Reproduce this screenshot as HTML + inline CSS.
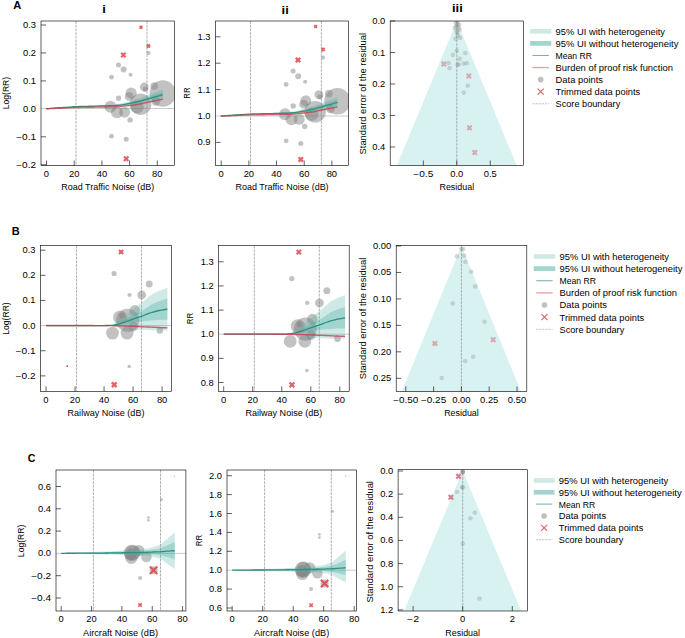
<!DOCTYPE html>
<html><head><meta charset="utf-8"><style>
html,body{margin:0;padding:0;background:#fff;}
svg{display:block;}
text{font-family:"Liberation Sans",sans-serif;fill:#000;}
</style></head><body>
<svg width="685" height="638" viewBox="0 0 685 638">
<rect width="685" height="638" fill="#fff"/>
<line x1="41.00" y1="25.00" x2="46.00" y2="25.00" stroke="#000" stroke-width="0.62"/>
<text x="36.10" y="28.00" font-size="8.4" text-anchor="end" textLength="13.04" lengthAdjust="spacingAndGlyphs">0.3</text>
<line x1="41.00" y1="52.95" x2="46.00" y2="52.95" stroke="#000" stroke-width="0.62"/>
<text x="36.10" y="55.95" font-size="8.4" text-anchor="end" textLength="13.04" lengthAdjust="spacingAndGlyphs">0.2</text>
<line x1="41.00" y1="80.90" x2="46.00" y2="80.90" stroke="#000" stroke-width="0.62"/>
<text x="36.10" y="83.90" font-size="8.4" text-anchor="end" textLength="13.04" lengthAdjust="spacingAndGlyphs">0.1</text>
<text x="36.10" y="111.85" font-size="8.4" text-anchor="end" textLength="13.04" lengthAdjust="spacingAndGlyphs">0.0</text>
<line x1="41.00" y1="136.80" x2="46.00" y2="136.80" stroke="#000" stroke-width="0.62"/>
<text x="36.10" y="139.80" font-size="8.4" text-anchor="end" textLength="19.91" lengthAdjust="spacingAndGlyphs">−0.1</text>
<line x1="41.00" y1="164.75" x2="46.00" y2="164.75" stroke="#000" stroke-width="0.62"/>
<text x="36.10" y="167.75" font-size="8.4" text-anchor="end" textLength="19.91" lengthAdjust="spacingAndGlyphs">−0.2</text>
<line x1="46.50" y1="165.50" x2="46.50" y2="160.50" stroke="#000" stroke-width="0.62"/>
<text x="46.50" y="176.80" font-size="8.4" text-anchor="middle" textLength="5.22" lengthAdjust="spacingAndGlyphs">0</text>
<line x1="74.20" y1="165.50" x2="74.20" y2="160.50" stroke="#000" stroke-width="0.62"/>
<text x="74.20" y="176.80" font-size="8.4" text-anchor="middle" textLength="10.43" lengthAdjust="spacingAndGlyphs">20</text>
<line x1="101.90" y1="165.50" x2="101.90" y2="160.50" stroke="#000" stroke-width="0.62"/>
<text x="101.90" y="176.80" font-size="8.4" text-anchor="middle" textLength="10.43" lengthAdjust="spacingAndGlyphs">40</text>
<line x1="129.60" y1="165.50" x2="129.60" y2="160.50" stroke="#000" stroke-width="0.62"/>
<text x="129.60" y="176.80" font-size="8.4" text-anchor="middle" textLength="10.43" lengthAdjust="spacingAndGlyphs">60</text>
<line x1="157.30" y1="165.50" x2="157.30" y2="160.50" stroke="#000" stroke-width="0.62"/>
<text x="157.30" y="176.80" font-size="8.4" text-anchor="middle" textLength="10.43" lengthAdjust="spacingAndGlyphs">80</text>
<clipPath id="cAi"><rect x="41.0" y="21.0" width="133.5" height="144.5"/></clipPath>
<g clip-path="url(#cAi)">
<line x1="76.00" y1="21.00" x2="76.00" y2="165.50" stroke="#909090" stroke-width="0.7" stroke-dasharray="2.8 0.9"/>
<line x1="147.00" y1="21.00" x2="147.00" y2="165.50" stroke="#909090" stroke-width="0.7" stroke-dasharray="2.8 0.9"/>
<line x1="41.00" y1="108.50" x2="174.50" y2="108.50" stroke="#c4c4c4" stroke-width="0.9"/>
<circle cx="162.80" cy="93.50" r="13.20" fill="#808080" fill-opacity="0.48"/>
<circle cx="154.20" cy="86.00" r="3.80" fill="#808080" fill-opacity="0.48"/>
<circle cx="144.30" cy="87.00" r="4.40" fill="#808080" fill-opacity="0.48"/>
<circle cx="145.40" cy="89.20" r="2.70" fill="#808080" fill-opacity="0.48"/>
<circle cx="131.20" cy="93.10" r="5.50" fill="#808080" fill-opacity="0.48"/>
<circle cx="129.00" cy="96.40" r="4.40" fill="#808080" fill-opacity="0.48"/>
<circle cx="140.50" cy="104.20" r="10.80" fill="#808080" fill-opacity="0.48"/>
<circle cx="118.60" cy="98.20" r="2.70" fill="#808080" fill-opacity="0.48"/>
<circle cx="110.40" cy="106.80" r="6.00" fill="#808080" fill-opacity="0.48"/>
<circle cx="117.00" cy="112.20" r="6.00" fill="#808080" fill-opacity="0.48"/>
<circle cx="124.60" cy="112.20" r="5.50" fill="#808080" fill-opacity="0.48"/>
<circle cx="130.10" cy="119.90" r="2.70" fill="#808080" fill-opacity="0.48"/>
<circle cx="111.50" cy="77.20" r="2.40" fill="#808080" fill-opacity="0.48"/>
<circle cx="130.50" cy="74.70" r="2.00" fill="#808080" fill-opacity="0.48"/>
<circle cx="155.80" cy="101.30" r="4.40" fill="#808080" fill-opacity="0.48"/>
<circle cx="137.20" cy="106.80" r="6.60" fill="#808080" fill-opacity="0.48"/>
<circle cx="148.50" cy="53.00" r="2.00" fill="#808080" fill-opacity="0.48"/>
<circle cx="118.50" cy="64.90" r="2.50" fill="#808080" fill-opacity="0.48"/>
<circle cx="123.60" cy="69.60" r="3.00" fill="#808080" fill-opacity="0.48"/>
<circle cx="111.50" cy="136.20" r="2.40" fill="#808080" fill-opacity="0.48"/>
<circle cx="126.20" cy="139.30" r="2.50" fill="#808080" fill-opacity="0.48"/>
<polygon points="46.10,108.70 48.08,108.54 50.06,108.38 52.03,108.23 54.01,108.07 55.99,107.91 57.97,107.76 59.95,107.60 61.92,107.44 63.90,107.28 65.88,107.13 67.86,106.97 69.84,106.81 71.81,106.66 73.79,106.50 75.77,106.34 77.75,106.26 79.73,106.19 81.70,106.13 83.68,106.06 85.66,105.99 87.64,105.92 89.62,105.86 91.59,105.79 93.57,105.72 95.55,105.65 97.53,105.58 99.51,105.52 101.48,105.38 103.46,105.22 105.44,105.06 107.42,104.91 109.39,104.75 111.37,104.58 113.35,104.40 115.33,104.21 117.31,103.94 119.28,103.67 121.26,103.34 123.24,102.86 125.22,102.30 127.20,101.75 129.17,101.19 131.15,100.63 133.13,100.00 135.11,99.36 137.09,98.73 139.06,98.10 141.04,97.40 143.02,96.65 145.00,95.91 146.98,95.16 148.95,94.44 150.93,93.72 152.91,93.01 154.89,92.29 156.87,91.54 158.84,90.80 160.82,90.05 162.80,89.30 162.80,99.90 160.82,100.32 158.84,100.74 156.87,101.16 154.89,101.57 152.91,101.96 150.93,102.34 148.95,102.73 146.98,103.12 145.00,103.54 143.02,103.96 141.04,104.38 139.06,104.72 137.09,104.98 135.11,105.23 133.13,105.49 131.15,105.75 129.17,105.93 127.20,106.11 125.22,106.29 123.24,106.48 121.26,106.58 119.28,106.60 117.31,106.67 115.33,106.74 113.35,106.73 111.37,106.71 109.39,106.69 107.42,106.65 105.44,106.61 103.46,106.57 101.48,106.53 99.51,106.51 97.53,106.54 95.55,106.57 93.57,106.60 91.59,106.63 89.62,106.66 87.64,106.69 85.66,106.73 83.68,106.76 81.70,106.79 79.73,106.82 77.75,106.85 75.77,106.89 73.79,107.01 71.81,107.13 69.84,107.25 67.86,107.37 65.88,107.49 63.90,107.62 61.92,107.74 59.95,107.86 57.97,107.98 55.99,108.10 54.01,108.22 52.03,108.34 50.06,108.46 48.08,108.58 46.10,108.70" fill="rgb(95,182,172)" fill-opacity="0.3"/>
<polygon points="46.10,108.70 48.08,108.55 50.06,108.40 52.03,108.25 54.01,108.10 55.99,107.95 57.97,107.80 59.95,107.65 61.92,107.50 63.90,107.35 65.88,107.20 67.86,107.05 69.84,106.90 71.81,106.75 73.79,106.60 75.77,106.45 77.75,106.38 79.73,106.32 81.70,106.26 83.68,106.20 85.66,106.14 87.64,106.08 89.62,106.02 91.59,105.96 93.57,105.90 95.55,105.84 97.53,105.78 99.51,105.72 101.48,105.62 103.46,105.51 105.44,105.40 107.42,105.29 109.39,105.18 111.37,105.06 113.35,104.93 115.33,104.79 117.31,104.57 119.28,104.35 121.26,104.10 123.24,103.71 125.22,103.24 127.20,102.77 129.17,102.30 131.15,101.83 133.13,101.29 135.11,100.74 137.09,100.20 139.06,99.66 141.04,99.04 143.02,98.35 145.00,97.66 146.98,96.97 148.95,96.31 150.93,95.66 152.91,95.00 154.89,94.35 156.87,93.66 158.84,92.97 160.82,92.29 162.80,91.60 162.80,97.60 160.82,98.08 158.84,98.56 156.87,99.04 154.89,99.51 152.91,99.96 150.93,100.41 148.95,100.85 146.98,101.30 145.00,101.78 143.02,102.27 141.04,102.75 139.06,103.16 137.09,103.51 135.11,103.85 133.13,104.20 131.15,104.55 129.17,104.82 127.20,105.09 125.22,105.36 123.24,105.63 121.26,105.83 119.28,105.91 117.31,106.03 115.33,106.16 113.35,106.20 111.37,106.23 109.39,106.25 107.42,106.26 105.44,106.27 103.46,106.28 101.48,106.29 99.51,106.31 97.53,106.35 95.55,106.39 93.57,106.43 91.59,106.46 89.62,106.50 87.64,106.54 85.66,106.58 83.68,106.62 81.70,106.66 79.73,106.69 77.75,106.73 75.77,106.78 73.79,106.91 71.81,107.04 69.84,107.17 67.86,107.29 65.88,107.42 63.90,107.55 61.92,107.68 59.95,107.81 57.97,107.93 55.99,108.06 54.01,108.19 52.03,108.32 50.06,108.44 48.08,108.57 46.10,108.70" fill="rgb(60,170,153)" fill-opacity="0.3"/>
<polyline points="46.10,108.70 48.08,108.56 50.06,108.42 52.03,108.28 54.01,108.14 55.99,108.01 57.97,107.87 59.95,107.73 61.92,107.59 63.90,107.45 65.88,107.31 67.86,107.17 69.84,107.03 71.81,106.89 73.79,106.76 75.77,106.62 77.75,106.56 79.73,106.51 81.70,106.46 83.68,106.41 85.66,106.36 87.64,106.31 89.62,106.26 91.59,106.21 93.57,106.16 95.55,106.11 97.53,106.06 99.51,106.01 101.48,105.96 103.46,105.90 105.44,105.84 107.42,105.78 109.39,105.72 111.37,105.65 113.35,105.57 115.33,105.47 117.31,105.30 119.28,105.13 121.26,104.96 123.24,104.67 125.22,104.30 127.20,103.93 129.17,103.56 131.15,103.19 133.13,102.74 135.11,102.30 137.09,101.85 139.06,101.41 141.04,100.89 143.02,100.31 145.00,99.72 146.98,99.14 148.95,98.58 150.93,98.03 152.91,97.48 154.89,96.93 156.87,96.35 158.84,95.77 160.82,95.18 162.80,94.60" fill="none" stroke="#2f8f83" stroke-width="1.3" stroke-opacity="1" stroke-linejoin="round"/>
<polyline points="46.10,108.80 48.08,108.71 50.06,108.63 52.03,108.54 54.01,108.45 55.99,108.37 57.97,108.28 59.95,108.19 61.92,108.11 63.90,108.02 65.88,107.93 67.86,107.85 69.84,107.76 71.81,107.67 73.79,107.59 75.77,107.50 77.75,107.47 79.73,107.43 81.70,107.40 83.68,107.36 85.66,107.33 87.64,107.29 89.62,107.26 91.59,107.22 93.57,107.19 95.55,107.15 97.53,107.12 99.51,107.08 101.48,107.05 103.46,107.01 105.44,106.98 107.42,106.95 109.39,106.91 111.37,106.87 113.35,106.83 115.33,106.77 117.31,106.60 119.28,106.43 121.26,106.26 123.24,106.08 125.22,105.91 127.20,105.74 129.17,105.57 131.15,105.39 133.13,105.08 135.11,104.77 137.09,104.46 139.06,104.15 141.04,103.77 143.02,103.32 145.00,102.87 146.98,102.43 148.95,102.02 150.93,101.62 152.91,101.22 154.89,100.82 156.87,100.43 158.84,100.03 160.82,99.64 162.80,99.24" fill="none" stroke="#d03a46" stroke-width="1.4" stroke-opacity="0.78" stroke-linejoin="round"/>
<path d="M139.64,25.94L142.36,28.66M142.36,25.94L139.64,28.66" stroke="#e0474f" stroke-width="1.76" stroke-opacity="0.85" fill="none"/>
<path d="M146.97,44.47L150.03,47.53M150.03,44.47L146.97,47.53" stroke="#e0474f" stroke-width="1.98" stroke-opacity="0.85" fill="none"/>
<path d="M121.19,52.79L125.61,57.21M125.61,52.79L121.19,57.21" stroke="#e0474f" stroke-width="2.21" stroke-opacity="0.85" fill="none"/>
<path d="M123.99,156.49L128.41,160.91M128.41,156.49L123.99,160.91" stroke="#e0474f" stroke-width="2.21" stroke-opacity="0.85" fill="none"/>
</g>
<rect x="41.00" y="21.00" width="133.50" height="144.50" fill="none" stroke="#000" stroke-width="0.62"/>
<line x1="215.50" y1="36.80" x2="220.50" y2="36.80" stroke="#000" stroke-width="0.62"/>
<text x="210.60" y="39.80" font-size="8.4" text-anchor="end" textLength="13.04" lengthAdjust="spacingAndGlyphs">1.3</text>
<line x1="215.50" y1="63.20" x2="220.50" y2="63.20" stroke="#000" stroke-width="0.62"/>
<text x="210.60" y="66.20" font-size="8.4" text-anchor="end" textLength="13.04" lengthAdjust="spacingAndGlyphs">1.2</text>
<line x1="215.50" y1="89.60" x2="220.50" y2="89.60" stroke="#000" stroke-width="0.62"/>
<text x="210.60" y="92.60" font-size="8.4" text-anchor="end" textLength="13.04" lengthAdjust="spacingAndGlyphs">1.1</text>
<text x="210.60" y="119.00" font-size="8.4" text-anchor="end" textLength="13.04" lengthAdjust="spacingAndGlyphs">1.0</text>
<line x1="215.50" y1="142.40" x2="220.50" y2="142.40" stroke="#000" stroke-width="0.62"/>
<text x="210.60" y="145.40" font-size="8.4" text-anchor="end" textLength="13.04" lengthAdjust="spacingAndGlyphs">0.9</text>
<line x1="221.20" y1="165.50" x2="221.20" y2="160.50" stroke="#000" stroke-width="0.62"/>
<text x="221.20" y="176.80" font-size="8.4" text-anchor="middle" textLength="5.22" lengthAdjust="spacingAndGlyphs">0</text>
<line x1="248.87" y1="165.50" x2="248.87" y2="160.50" stroke="#000" stroke-width="0.62"/>
<text x="248.87" y="176.80" font-size="8.4" text-anchor="middle" textLength="10.43" lengthAdjust="spacingAndGlyphs">20</text>
<line x1="276.54" y1="165.50" x2="276.54" y2="160.50" stroke="#000" stroke-width="0.62"/>
<text x="276.54" y="176.80" font-size="8.4" text-anchor="middle" textLength="10.43" lengthAdjust="spacingAndGlyphs">40</text>
<line x1="304.21" y1="165.50" x2="304.21" y2="160.50" stroke="#000" stroke-width="0.62"/>
<text x="304.21" y="176.80" font-size="8.4" text-anchor="middle" textLength="10.43" lengthAdjust="spacingAndGlyphs">60</text>
<line x1="331.88" y1="165.50" x2="331.88" y2="160.50" stroke="#000" stroke-width="0.62"/>
<text x="331.88" y="176.80" font-size="8.4" text-anchor="middle" textLength="10.43" lengthAdjust="spacingAndGlyphs">80</text>
<clipPath id="cAii"><rect x="215.5" y="21.0" width="133.10000000000002" height="144.5"/></clipPath>
<g clip-path="url(#cAii)">
<line x1="250.50" y1="21.00" x2="250.50" y2="165.50" stroke="#909090" stroke-width="0.7" stroke-dasharray="2.8 0.9"/>
<line x1="321.40" y1="21.00" x2="321.40" y2="165.50" stroke="#909090" stroke-width="0.7" stroke-dasharray="2.8 0.9"/>
<line x1="215.50" y1="116.00" x2="348.60" y2="116.00" stroke="#c4c4c4" stroke-width="0.9"/>
<circle cx="337.40" cy="101.24" r="13.20" fill="#808080" fill-opacity="0.48"/>
<circle cx="328.80" cy="93.63" r="3.80" fill="#808080" fill-opacity="0.48"/>
<circle cx="318.90" cy="94.66" r="4.40" fill="#808080" fill-opacity="0.48"/>
<circle cx="320.00" cy="96.90" r="2.70" fill="#808080" fill-opacity="0.48"/>
<circle cx="305.80" cy="100.84" r="5.50" fill="#808080" fill-opacity="0.48"/>
<circle cx="303.60" cy="104.13" r="4.40" fill="#808080" fill-opacity="0.48"/>
<circle cx="315.10" cy="111.75" r="10.80" fill="#808080" fill-opacity="0.48"/>
<circle cx="293.20" cy="105.91" r="2.70" fill="#808080" fill-opacity="0.48"/>
<circle cx="285.00" cy="114.24" r="6.00" fill="#808080" fill-opacity="0.48"/>
<circle cx="291.60" cy="119.34" r="6.00" fill="#808080" fill-opacity="0.48"/>
<circle cx="299.20" cy="119.34" r="5.50" fill="#808080" fill-opacity="0.48"/>
<circle cx="304.70" cy="126.45" r="2.70" fill="#808080" fill-opacity="0.48"/>
<circle cx="286.10" cy="84.44" r="2.40" fill="#808080" fill-opacity="0.48"/>
<circle cx="305.10" cy="81.77" r="2.00" fill="#808080" fill-opacity="0.48"/>
<circle cx="330.40" cy="108.94" r="4.40" fill="#808080" fill-opacity="0.48"/>
<circle cx="311.80" cy="114.24" r="6.60" fill="#808080" fill-opacity="0.48"/>
<circle cx="323.10" cy="57.61" r="2.00" fill="#808080" fill-opacity="0.48"/>
<circle cx="293.10" cy="71.09" r="2.50" fill="#808080" fill-opacity="0.48"/>
<circle cx="298.20" cy="76.26" r="3.00" fill="#808080" fill-opacity="0.48"/>
<circle cx="286.10" cy="140.87" r="2.40" fill="#808080" fill-opacity="0.48"/>
<circle cx="300.80" cy="143.51" r="2.50" fill="#808080" fill-opacity="0.48"/>
<polygon points="220.70,116.05 222.68,115.90 224.66,115.75 226.63,115.60 228.61,115.45 230.59,115.30 232.57,115.15 234.55,115.00 236.52,114.85 238.50,114.70 240.48,114.55 242.46,114.40 244.44,114.25 246.41,114.10 248.39,113.95 250.37,113.80 252.35,113.73 254.33,113.66 256.30,113.60 258.28,113.53 260.26,113.47 262.24,113.40 264.22,113.34 266.19,113.27 268.17,113.21 270.15,113.14 272.13,113.08 274.11,113.01 276.08,112.88 278.06,112.73 280.04,112.58 282.02,112.43 283.99,112.28 285.97,112.11 287.95,111.94 289.93,111.75 291.91,111.49 293.88,111.24 295.86,110.92 297.84,110.45 299.82,109.91 301.80,109.37 303.77,108.83 305.75,108.29 307.73,107.67 309.71,107.05 311.69,106.43 313.66,105.81 315.64,105.12 317.62,104.38 319.60,103.64 321.58,102.89 323.55,102.18 325.53,101.46 327.51,100.75 329.49,100.03 331.47,99.28 333.44,98.52 335.42,97.76 337.40,97.01 337.40,107.57 335.42,107.98 333.44,108.39 331.47,108.80 329.49,109.20 327.51,109.58 325.53,109.95 323.55,110.33 321.58,110.70 319.60,111.11 317.62,111.51 315.64,111.92 313.66,112.25 311.69,112.50 309.71,112.74 307.73,112.99 305.75,113.23 303.77,113.41 301.80,113.58 299.82,113.76 297.84,113.93 295.86,114.03 293.88,114.05 291.91,114.11 289.93,114.18 287.95,114.18 285.97,114.16 283.99,114.13 282.02,114.10 280.04,114.06 278.06,114.02 276.08,113.98 274.11,113.96 272.13,113.99 270.15,114.02 268.17,114.05 266.19,114.08 264.22,114.11 262.24,114.14 260.26,114.17 258.28,114.20 256.30,114.23 254.33,114.26 252.35,114.29 250.37,114.33 248.39,114.44 246.41,114.56 244.44,114.67 242.46,114.79 240.48,114.90 238.50,115.02 236.52,115.13 234.55,115.25 232.57,115.36 230.59,115.48 228.61,115.59 226.63,115.71 224.66,115.82 222.68,115.93 220.70,116.05" fill="rgb(95,182,172)" fill-opacity="0.3"/>
<polygon points="220.70,116.05 222.68,115.90 224.66,115.76 226.63,115.62 228.61,115.48 230.59,115.34 232.57,115.19 234.55,115.05 236.52,114.91 238.50,114.77 240.48,114.62 242.46,114.48 244.44,114.34 246.41,114.19 248.39,114.05 250.37,113.91 252.35,113.84 254.33,113.78 256.30,113.72 258.28,113.67 260.26,113.61 262.24,113.55 264.22,113.49 266.19,113.43 268.17,113.38 270.15,113.32 272.13,113.26 274.11,113.20 276.08,113.11 278.06,113.01 280.04,112.90 282.02,112.80 283.99,112.69 285.97,112.58 287.95,112.45 289.93,112.31 291.91,112.10 293.88,111.89 295.86,111.65 297.84,111.27 299.82,110.82 301.80,110.37 303.77,109.91 305.75,109.46 307.73,108.93 309.71,108.40 311.69,107.87 313.66,107.34 315.64,106.73 317.62,106.05 319.60,105.37 321.58,104.69 323.55,104.04 325.53,103.39 327.51,102.74 329.49,102.09 331.47,101.40 333.44,100.71 335.42,100.02 337.40,99.33 337.40,105.31 335.42,105.79 333.44,106.26 331.47,106.73 329.49,107.20 327.51,107.63 325.53,108.07 323.55,108.51 321.58,108.94 319.60,109.41 317.62,109.88 315.64,110.34 313.66,110.75 311.69,111.08 309.71,111.41 307.73,111.75 305.75,112.08 303.77,112.34 301.80,112.60 299.82,112.86 297.84,113.12 295.86,113.31 293.88,113.39 291.91,113.51 289.93,113.62 287.95,113.67 285.97,113.70 283.99,113.72 282.02,113.73 280.04,113.74 278.06,113.75 276.08,113.76 274.11,113.77 272.13,113.81 270.15,113.85 268.17,113.88 266.19,113.92 264.22,113.96 262.24,113.99 260.26,114.03 258.28,114.07 256.30,114.10 254.33,114.14 252.35,114.18 250.37,114.22 248.39,114.34 246.41,114.47 244.44,114.59 242.46,114.71 240.48,114.83 238.50,114.95 236.52,115.08 234.55,115.20 232.57,115.32 230.59,115.44 228.61,115.56 226.63,115.68 224.66,115.81 222.68,115.93 220.70,116.05" fill="rgb(60,170,153)" fill-opacity="0.3"/>
<polyline points="220.70,116.05 222.68,115.92 224.66,115.78 226.63,115.65 228.61,115.52 230.59,115.39 232.57,115.26 234.55,115.12 236.52,114.99 238.50,114.86 240.48,114.73 242.46,114.60 244.44,114.46 246.41,114.33 248.39,114.20 250.37,114.07 252.35,114.01 254.33,113.96 256.30,113.91 258.28,113.87 260.26,113.82 262.24,113.77 264.22,113.72 266.19,113.68 268.17,113.63 270.15,113.58 272.13,113.54 274.11,113.49 276.08,113.43 278.06,113.38 280.04,113.32 282.02,113.26 283.99,113.21 285.97,113.14 287.95,113.06 289.93,112.97 291.91,112.81 293.88,112.64 295.86,112.48 297.84,112.20 299.82,111.84 301.80,111.49 303.77,111.13 305.75,110.77 307.73,110.34 309.71,109.91 311.69,109.48 313.66,109.05 315.64,108.54 317.62,107.97 319.60,107.40 321.58,106.83 323.55,106.28 325.53,105.74 327.51,105.20 329.49,104.65 331.47,104.08 333.44,103.50 335.42,102.92 337.40,102.34" fill="none" stroke="#2f8f83" stroke-width="1.3" stroke-opacity="1" stroke-linejoin="round"/>
<polyline points="220.70,116.14 222.68,116.06 224.66,115.98 226.63,115.90 228.61,115.81 230.59,115.73 232.57,115.65 234.55,115.57 236.52,115.49 238.50,115.40 240.48,115.32 242.46,115.24 244.44,115.16 246.41,115.07 248.39,114.99 250.37,114.91 252.35,114.88 254.33,114.84 256.30,114.81 258.28,114.78 260.26,114.74 262.24,114.71 264.22,114.68 266.19,114.64 268.17,114.61 270.15,114.58 272.13,114.54 274.11,114.51 276.08,114.48 278.06,114.45 280.04,114.41 282.02,114.38 283.99,114.35 285.97,114.31 287.95,114.27 289.93,114.21 291.91,114.05 293.88,113.88 295.86,113.72 297.84,113.56 299.82,113.39 301.80,113.23 303.77,113.06 305.75,112.89 307.73,112.59 309.71,112.30 311.69,112.00 313.66,111.70 315.64,111.33 317.62,110.90 319.60,110.47 321.58,110.04 323.55,109.64 325.53,109.25 327.51,108.87 329.49,108.47 331.47,108.09 333.44,107.70 335.42,107.32 337.40,106.93" fill="none" stroke="#d03a46" stroke-width="1.4" stroke-opacity="0.78" stroke-linejoin="round"/>
<path d="M314.24,25.08L316.96,27.80M316.96,25.08L314.24,27.80" stroke="#e0474f" stroke-width="1.76" stroke-opacity="0.85" fill="none"/>
<path d="M321.57,47.87L324.63,50.93M324.63,47.87L321.57,50.93" stroke="#e0474f" stroke-width="1.98" stroke-opacity="0.85" fill="none"/>
<path d="M295.79,57.70L300.21,62.12M300.21,57.70L295.79,62.12" stroke="#e0474f" stroke-width="2.21" stroke-opacity="0.85" fill="none"/>
<path d="M298.59,157.22L303.01,161.64M303.01,157.22L298.59,161.64" stroke="#e0474f" stroke-width="2.21" stroke-opacity="0.85" fill="none"/>
</g>
<rect x="215.50" y="21.00" width="133.10" height="144.50" fill="none" stroke="#000" stroke-width="0.62"/>
<clipPath id="cAiii"><rect x="390.2" y="21.0" width="133.2" height="144.5"/></clipPath>
<g clip-path="url(#cAiii)">
<polygon points="456.80,21.00 520.95,175.50 392.65,175.50" fill="#d8f2f2"/>
<line x1="456.80" y1="21.00" x2="456.80" y2="165.50" stroke="#909090" stroke-width="0.7" stroke-dasharray="2.8 0.9"/>
<circle cx="456.80" cy="21.60" r="2.30" fill="#808080" fill-opacity="0.3"/>
<circle cx="456.50" cy="26.00" r="2.30" fill="#808080" fill-opacity="0.3"/>
<circle cx="458.60" cy="27.50" r="2.30" fill="#808080" fill-opacity="0.3"/>
<circle cx="457.00" cy="31.00" r="2.30" fill="#808080" fill-opacity="0.3"/>
<circle cx="459.00" cy="25.00" r="2.30" fill="#808080" fill-opacity="0.3"/>
<circle cx="455.80" cy="23.30" r="2.30" fill="#808080" fill-opacity="0.3"/>
<circle cx="458.10" cy="23.60" r="2.30" fill="#808080" fill-opacity="0.3"/>
<circle cx="454.80" cy="27.90" r="2.30" fill="#808080" fill-opacity="0.3"/>
<circle cx="459.70" cy="29.80" r="2.30" fill="#808080" fill-opacity="0.3"/>
<circle cx="457.10" cy="33.10" r="2.30" fill="#808080" fill-opacity="0.3"/>
<circle cx="457.80" cy="35.40" r="2.30" fill="#808080" fill-opacity="0.3"/>
<circle cx="455.50" cy="38.70" r="2.30" fill="#808080" fill-opacity="0.3"/>
<circle cx="460.10" cy="37.70" r="2.30" fill="#808080" fill-opacity="0.3"/>
<circle cx="456.80" cy="50.70" r="2.30" fill="#808080" fill-opacity="0.3"/>
<circle cx="465.30" cy="53.00" r="2.30" fill="#808080" fill-opacity="0.3"/>
<circle cx="452.90" cy="55.10" r="2.30" fill="#808080" fill-opacity="0.3"/>
<circle cx="459.60" cy="58.90" r="2.30" fill="#808080" fill-opacity="0.3"/>
<circle cx="448.60" cy="63.00" r="2.30" fill="#808080" fill-opacity="0.3"/>
<circle cx="458.60" cy="64.50" r="2.30" fill="#808080" fill-opacity="0.3"/>
<circle cx="457.50" cy="64.80" r="2.30" fill="#808080" fill-opacity="0.3"/>
<circle cx="463.70" cy="63.70" r="2.30" fill="#808080" fill-opacity="0.3"/>
<circle cx="466.70" cy="63.30" r="2.30" fill="#808080" fill-opacity="0.3"/>
<circle cx="449.60" cy="68.10" r="2.30" fill="#808080" fill-opacity="0.3"/>
<circle cx="467.80" cy="85.80" r="2.30" fill="#808080" fill-opacity="0.3"/>
<circle cx="463.70" cy="92.60" r="2.30" fill="#808080" fill-opacity="0.3"/>
<path d="M441.59,61.79L446.01,66.21M446.01,61.79L441.59,66.21" stroke="#cf4a5a" stroke-width="2.21" stroke-opacity="0.42" fill="none"/>
<path d="M466.59,73.79L471.01,78.21M471.01,73.79L466.59,78.21" stroke="#cf4a5a" stroke-width="2.21" stroke-opacity="0.42" fill="none"/>
<path d="M467.29,125.59L471.71,130.01M471.71,125.59L467.29,130.01" stroke="#cf4a5a" stroke-width="2.21" stroke-opacity="0.42" fill="none"/>
<path d="M472.59,150.29L477.01,154.71M477.01,150.29L472.59,154.71" stroke="#cf4a5a" stroke-width="2.21" stroke-opacity="0.42" fill="none"/>
</g>
<rect x="390.20" y="21.00" width="133.20" height="144.50" fill="none" stroke="#000" stroke-width="0.62"/>
<line x1="390.20" y1="21.00" x2="395.20" y2="21.00" stroke="#000" stroke-width="0.62"/>
<text x="385.30" y="24.00" font-size="8.4" text-anchor="end" textLength="13.04" lengthAdjust="spacingAndGlyphs">0.0</text>
<line x1="390.20" y1="52.50" x2="395.20" y2="52.50" stroke="#000" stroke-width="0.62"/>
<text x="385.30" y="55.50" font-size="8.4" text-anchor="end" textLength="13.04" lengthAdjust="spacingAndGlyphs">0.1</text>
<line x1="390.20" y1="84.00" x2="395.20" y2="84.00" stroke="#000" stroke-width="0.62"/>
<text x="385.30" y="87.00" font-size="8.4" text-anchor="end" textLength="13.04" lengthAdjust="spacingAndGlyphs">0.2</text>
<line x1="390.20" y1="115.50" x2="395.20" y2="115.50" stroke="#000" stroke-width="0.62"/>
<text x="385.30" y="118.50" font-size="8.4" text-anchor="end" textLength="13.04" lengthAdjust="spacingAndGlyphs">0.3</text>
<line x1="390.20" y1="147.00" x2="395.20" y2="147.00" stroke="#000" stroke-width="0.62"/>
<text x="385.30" y="150.00" font-size="8.4" text-anchor="end" textLength="13.04" lengthAdjust="spacingAndGlyphs">0.4</text>
<line x1="423.30" y1="165.50" x2="423.30" y2="160.50" stroke="#000" stroke-width="0.62"/>
<text x="423.30" y="176.80" font-size="8.4" text-anchor="middle" textLength="19.91" lengthAdjust="spacingAndGlyphs">−0.5</text>
<line x1="456.80" y1="165.50" x2="456.80" y2="160.50" stroke="#000" stroke-width="0.62"/>
<text x="456.80" y="176.80" font-size="8.4" text-anchor="middle" textLength="13.04" lengthAdjust="spacingAndGlyphs">0.0</text>
<line x1="490.30" y1="165.50" x2="490.30" y2="160.50" stroke="#000" stroke-width="0.62"/>
<text x="490.30" y="176.80" font-size="8.4" text-anchor="middle" textLength="13.04" lengthAdjust="spacingAndGlyphs">0.5</text>
<rect x="530.10" y="28.95" width="21.20" height="4.7" fill="#cfe9e6"/>
<text x="555.60" y="34.70" font-size="8.4" textLength="109.41" lengthAdjust="spacingAndGlyphs">95% UI with heterogeneity</text>
<rect x="530.10" y="41.03" width="21.20" height="4.7" fill="#a2d5ce"/>
<text x="555.60" y="46.78" font-size="8.4" textLength="122.84" lengthAdjust="spacingAndGlyphs">95% UI without heterogeneity</text>
<line x1="532.50" y1="55.46" x2="548.90" y2="55.46" stroke="#2f8f83" stroke-opacity="0.7" stroke-width="1.0"/>
<text x="555.60" y="58.86" font-size="8.4" textLength="36.34" lengthAdjust="spacingAndGlyphs">Mean RR</text>
<line x1="532.50" y1="67.54" x2="548.90" y2="67.54" stroke="#ef9aa0" stroke-width="1.3"/>
<text x="555.60" y="70.94" font-size="8.4" textLength="117.31" lengthAdjust="spacingAndGlyphs">Burden of proof risk function</text>
<circle cx="540.70" cy="79.62" r="2.8" fill="#808080" fill-opacity="0.5"/>
<text x="555.60" y="83.02" font-size="8.4" textLength="47.37" lengthAdjust="spacingAndGlyphs">Data points</text>
<path d="M537.70,88.70L543.70,94.70M543.70,88.70L537.70,94.70" stroke="#e0474f" stroke-width="1.2" stroke-opacity="0.85"/>
<text x="555.60" y="95.10" font-size="8.4" textLength="84.55" lengthAdjust="spacingAndGlyphs">Trimmed data points</text>
<line x1="532.50" y1="103.78" x2="548.90" y2="103.78" stroke="#a0a0a0" stroke-width="0.6" stroke-dasharray="2.2 0.9"/>
<text x="555.60" y="107.18" font-size="8.4" textLength="64.64" lengthAdjust="spacingAndGlyphs">Score boundary</text>
<text x="104.00" y="12.90" font-size="10.4" text-anchor="middle" font-weight="bold" textLength="3.57" lengthAdjust="spacingAndGlyphs">i</text>
<text x="285.20" y="13.80" font-size="10.4" text-anchor="middle" font-weight="bold" textLength="7.13" lengthAdjust="spacingAndGlyphs">ii</text>
<text x="457.40" y="12.10" font-size="10.4" text-anchor="middle" font-weight="bold" textLength="10.70" lengthAdjust="spacingAndGlyphs">iii</text>
<text x="13.20" y="9.00" font-size="10.4" font-weight="bold" textLength="8.05" lengthAdjust="spacingAndGlyphs">A</text>
<text x="107.80" y="190.00" font-size="8.4" text-anchor="middle" textLength="93.01" lengthAdjust="spacingAndGlyphs">Road Traffic Noise (dB)</text>
<text x="282.10" y="190.00" font-size="8.4" text-anchor="middle" textLength="93.01" lengthAdjust="spacingAndGlyphs">Road Traffic Noise (dB)</text>
<text x="456.80" y="190.00" font-size="8.4" text-anchor="middle" textLength="34.63" lengthAdjust="spacingAndGlyphs">Residual</text>
<text x="9.00" y="93.05" font-size="8.4" text-anchor="middle" textLength="32.44" lengthAdjust="spacingAndGlyphs" transform="rotate(-90 9.00 93.05)">Log(RR)</text>
<text x="190.20" y="93.05" font-size="8.4" text-anchor="middle" textLength="11.40" lengthAdjust="spacingAndGlyphs" transform="rotate(-90 190.20 93.05)">RR</text>
<text x="365.90" y="93.70" font-size="8.4" text-anchor="middle" textLength="121.44" lengthAdjust="spacingAndGlyphs" transform="rotate(-90 365.90 93.70)">Standard error of the residual</text>
<line x1="40.50" y1="250.18" x2="45.50" y2="250.18" stroke="#000" stroke-width="0.62"/>
<text x="35.60" y="253.18" font-size="8.4" text-anchor="end" textLength="13.04" lengthAdjust="spacingAndGlyphs">0.3</text>
<line x1="40.50" y1="275.32" x2="45.50" y2="275.32" stroke="#000" stroke-width="0.62"/>
<text x="35.60" y="278.32" font-size="8.4" text-anchor="end" textLength="13.04" lengthAdjust="spacingAndGlyphs">0.2</text>
<line x1="40.50" y1="300.46" x2="45.50" y2="300.46" stroke="#000" stroke-width="0.62"/>
<text x="35.60" y="303.46" font-size="8.4" text-anchor="end" textLength="13.04" lengthAdjust="spacingAndGlyphs">0.1</text>
<text x="35.60" y="328.60" font-size="8.4" text-anchor="end" textLength="13.04" lengthAdjust="spacingAndGlyphs">0.0</text>
<line x1="40.50" y1="350.74" x2="45.50" y2="350.74" stroke="#000" stroke-width="0.62"/>
<text x="35.60" y="353.74" font-size="8.4" text-anchor="end" textLength="19.91" lengthAdjust="spacingAndGlyphs">−0.1</text>
<line x1="40.50" y1="375.88" x2="45.50" y2="375.88" stroke="#000" stroke-width="0.62"/>
<text x="35.60" y="378.88" font-size="8.4" text-anchor="end" textLength="19.91" lengthAdjust="spacingAndGlyphs">−0.2</text>
<line x1="46.00" y1="391.40" x2="46.00" y2="386.40" stroke="#000" stroke-width="0.62"/>
<text x="46.00" y="403.20" font-size="8.4" text-anchor="middle" textLength="5.22" lengthAdjust="spacingAndGlyphs">0</text>
<line x1="75.03" y1="391.40" x2="75.03" y2="386.40" stroke="#000" stroke-width="0.62"/>
<text x="75.03" y="403.20" font-size="8.4" text-anchor="middle" textLength="10.43" lengthAdjust="spacingAndGlyphs">20</text>
<line x1="104.06" y1="391.40" x2="104.06" y2="386.40" stroke="#000" stroke-width="0.62"/>
<text x="104.06" y="403.20" font-size="8.4" text-anchor="middle" textLength="10.43" lengthAdjust="spacingAndGlyphs">40</text>
<line x1="133.09" y1="391.40" x2="133.09" y2="386.40" stroke="#000" stroke-width="0.62"/>
<text x="133.09" y="403.20" font-size="8.4" text-anchor="middle" textLength="10.43" lengthAdjust="spacingAndGlyphs">60</text>
<line x1="162.12" y1="391.40" x2="162.12" y2="386.40" stroke="#000" stroke-width="0.62"/>
<text x="162.12" y="403.20" font-size="8.4" text-anchor="middle" textLength="10.43" lengthAdjust="spacingAndGlyphs">80</text>
<clipPath id="cBi"><rect x="40.5" y="245.6" width="131.1" height="145.79999999999998"/></clipPath>
<g clip-path="url(#cBi)">
<line x1="76.50" y1="245.60" x2="76.50" y2="391.40" stroke="#909090" stroke-width="0.7" stroke-dasharray="2.8 0.9"/>
<line x1="141.50" y1="245.60" x2="141.50" y2="391.40" stroke="#909090" stroke-width="0.7" stroke-dasharray="2.8 0.9"/>
<line x1="40.50" y1="325.60" x2="171.60" y2="325.60" stroke="#c4c4c4" stroke-width="0.9"/>
<circle cx="114.10" cy="273.50" r="2.60" fill="#808080" fill-opacity="0.48"/>
<circle cx="149.20" cy="284.10" r="3.50" fill="#808080" fill-opacity="0.48"/>
<circle cx="129.50" cy="295.00" r="2.10" fill="#808080" fill-opacity="0.48"/>
<circle cx="141.70" cy="295.00" r="4.40" fill="#808080" fill-opacity="0.48"/>
<circle cx="134.70" cy="310.40" r="5.30" fill="#808080" fill-opacity="0.48"/>
<circle cx="121.90" cy="315.60" r="2.90" fill="#808080" fill-opacity="0.48"/>
<circle cx="120.10" cy="317.40" r="7.00" fill="#808080" fill-opacity="0.48"/>
<circle cx="127.70" cy="320.30" r="11.50" fill="#808080" fill-opacity="0.48"/>
<circle cx="112.50" cy="333.10" r="6.40" fill="#808080" fill-opacity="0.48"/>
<circle cx="127.10" cy="333.10" r="6.40" fill="#808080" fill-opacity="0.48"/>
<circle cx="159.80" cy="330.50" r="3.30" fill="#808080" fill-opacity="0.48"/>
<circle cx="133.50" cy="326.70" r="4.70" fill="#808080" fill-opacity="0.48"/>
<circle cx="129.20" cy="366.50" r="1.80" fill="#808080" fill-opacity="0.48"/>
<polygon points="105.00,325.52 106.27,325.36 107.55,325.21 108.82,325.05 110.09,324.90 111.37,324.74 112.64,324.50 113.91,323.64 115.19,322.78 116.46,321.92 117.73,321.06 119.01,320.15 120.28,319.19 121.56,318.22 122.83,317.26 124.10,316.30 125.38,315.34 126.65,314.30 127.92,313.25 129.20,312.20 130.47,311.15 131.74,310.10 133.02,309.08 134.29,308.13 135.56,307.18 136.84,306.23 138.11,305.28 139.38,304.36 140.66,303.45 141.93,302.51 143.20,301.47 144.48,300.43 145.75,299.39 147.02,298.35 148.30,297.34 149.57,296.36 150.84,295.37 152.12,294.39 153.39,293.41 154.67,292.84 155.94,292.28 157.21,291.71 158.49,291.15 159.76,290.58 161.03,290.08 162.31,289.65 163.58,289.21 164.85,288.77 166.13,288.34 167.40,287.90 167.40,330.50 166.13,330.43 164.85,330.35 163.58,330.28 162.31,330.21 161.03,330.14 159.76,330.13 158.49,330.18 157.21,330.24 155.94,330.29 154.67,330.35 153.39,330.40 152.12,330.29 150.84,330.19 149.57,330.08 148.30,329.98 147.02,329.90 145.75,329.85 144.48,329.80 143.20,329.76 141.93,329.71 140.66,329.61 139.38,329.50 138.11,329.39 136.84,329.31 135.56,329.24 134.29,329.17 133.02,329.09 131.74,329.00 130.47,328.94 129.20,328.87 127.92,328.81 126.65,328.74 125.38,328.67 124.10,328.48 122.83,328.28 121.56,328.08 120.28,327.88 119.01,327.69 117.73,327.43 116.46,327.13 115.19,326.83 113.91,326.53 112.64,326.23 111.37,326.10 110.09,325.98 108.82,325.87 107.55,325.75 106.27,325.64 105.00,325.52" fill="rgb(95,182,172)" fill-opacity="0.3"/>
<polygon points="105.00,325.52 106.27,325.45 107.55,325.38 108.82,325.31 110.09,325.23 111.37,325.16 112.64,325.05 113.91,324.57 115.19,324.10 116.46,323.63 117.73,323.15 119.01,322.63 120.28,322.05 121.56,321.48 122.83,320.90 124.10,320.33 125.38,319.74 126.65,319.02 127.92,318.30 129.20,317.58 130.47,316.86 131.74,316.14 133.02,315.45 134.29,314.78 135.56,314.11 136.84,313.44 138.11,312.78 139.38,312.14 140.66,311.52 141.93,310.85 143.20,310.00 144.48,309.16 145.75,308.31 147.02,307.47 148.30,306.65 149.57,305.87 150.84,305.08 152.12,304.29 153.39,303.51 154.67,303.00 155.94,302.50 157.21,302.00 158.49,301.50 159.76,301.00 161.03,300.56 162.31,300.19 163.58,299.82 164.85,299.45 166.13,299.07 167.40,298.70 167.40,319.70 166.13,319.69 164.85,319.68 163.58,319.67 162.31,319.66 161.03,319.65 159.76,319.71 158.49,319.83 157.21,319.95 155.94,320.06 154.67,320.18 153.39,320.30 152.12,320.39 150.84,320.48 149.57,320.57 148.30,320.66 147.02,320.78 145.75,320.93 144.48,321.08 143.20,321.23 141.93,321.37 140.66,321.54 139.38,321.71 138.11,321.89 136.84,322.10 135.56,322.31 134.29,322.52 133.02,322.73 131.74,322.96 130.47,323.23 129.20,323.49 127.92,323.75 126.65,324.01 125.38,324.27 124.10,324.45 122.83,324.64 121.56,324.83 120.28,325.02 119.01,325.21 117.73,325.34 116.46,325.43 115.19,325.52 113.91,325.60 112.64,325.69 111.37,325.67 110.09,325.64 108.82,325.61 107.55,325.58 106.27,325.55 105.00,325.52" fill="rgb(60,170,153)" fill-opacity="0.3"/>
<polyline points="46.00,325.60 48.06,325.60 50.12,325.60 52.17,325.60 54.23,325.60 56.29,325.60 58.35,325.60 60.40,325.60 62.46,325.60 64.52,325.60 66.58,325.60 68.63,325.60 70.69,325.60 72.75,325.60 74.81,325.60 76.86,325.60 78.92,325.60 80.98,325.60 83.04,325.60 85.09,325.60 87.15,325.60 89.21,325.60 91.27,325.60 93.33,325.60 95.38,325.60 97.44,325.60 99.50,325.60 101.56,325.58 103.61,325.54 105.67,325.51 107.73,325.48 109.79,325.44 111.84,325.41 113.90,325.09 115.96,324.64 118.02,324.18 120.07,323.60 122.13,322.98 124.19,322.36 126.25,321.67 128.31,320.88 130.36,320.09 132.42,319.29 134.48,318.58 136.54,317.87 138.59,317.18 140.65,316.53 142.71,315.81 144.77,315.00 146.82,314.20 148.88,313.46 150.94,312.75 153.00,312.04 155.05,311.50 157.11,311.00 159.17,310.50 161.23,310.08 163.28,309.79 165.34,309.49 167.40,309.20" fill="none" stroke="#2f8f83" stroke-width="1.3" stroke-opacity="1" stroke-linejoin="round"/>
<polyline points="46.00,325.50 48.06,325.50 50.12,325.51 52.17,325.51 54.23,325.51 56.29,325.52 58.35,325.52 60.40,325.52 62.46,325.53 64.52,325.53 66.58,325.53 68.63,325.54 70.69,325.54 72.75,325.54 74.81,325.55 76.86,325.55 78.92,325.55 80.98,325.55 83.04,325.56 85.09,325.56 87.15,325.56 89.21,325.57 91.27,325.57 93.33,325.57 95.38,325.58 97.44,325.58 99.50,325.58 101.56,325.59 103.61,325.59 105.67,325.59 107.73,325.60 109.79,325.60 111.84,325.65 113.90,325.70 115.96,325.76 118.02,325.81 120.07,325.87 122.13,325.92 124.19,325.98 126.25,326.05 128.31,326.14 130.36,326.22 132.42,326.31 134.48,326.40 136.54,326.48 138.59,326.57 140.65,326.66 142.71,326.75 144.77,326.84 146.82,326.94 148.88,327.04 150.94,327.13 153.00,327.23 155.05,327.32 157.11,327.42 159.17,327.52 161.23,327.61 163.28,327.71 165.34,327.80 167.40,327.90" fill="none" stroke="#d03a46" stroke-width="1.4" stroke-opacity="0.78" stroke-linejoin="round"/>
<circle cx="67.20" cy="366.20" r="0.9" fill="#e0474f"/>
<path d="M118.97,249.88L123.22,254.12M123.22,249.88L118.97,254.12" stroke="#e0474f" stroke-width="2.12" stroke-opacity="0.85" fill="none"/>
<path d="M111.82,382.42L116.58,387.18M116.58,382.42L111.82,387.18" stroke="#e0474f" stroke-width="2.38" stroke-opacity="0.85" fill="none"/>
</g>
<rect x="40.50" y="245.60" width="131.10" height="145.80" fill="none" stroke="#000" stroke-width="0.62"/>
<line x1="218.60" y1="261.80" x2="223.60" y2="261.80" stroke="#000" stroke-width="0.62"/>
<text x="213.70" y="264.80" font-size="8.4" text-anchor="end" textLength="13.04" lengthAdjust="spacingAndGlyphs">1.3</text>
<line x1="218.60" y1="285.95" x2="223.60" y2="285.95" stroke="#000" stroke-width="0.62"/>
<text x="213.70" y="288.95" font-size="8.4" text-anchor="end" textLength="13.04" lengthAdjust="spacingAndGlyphs">1.2</text>
<line x1="218.60" y1="310.10" x2="223.60" y2="310.10" stroke="#000" stroke-width="0.62"/>
<text x="213.70" y="313.10" font-size="8.4" text-anchor="end" textLength="13.04" lengthAdjust="spacingAndGlyphs">1.1</text>
<text x="213.70" y="337.20" font-size="8.4" text-anchor="end" textLength="13.04" lengthAdjust="spacingAndGlyphs">1.0</text>
<line x1="218.60" y1="358.35" x2="223.60" y2="358.35" stroke="#000" stroke-width="0.62"/>
<text x="213.70" y="361.35" font-size="8.4" text-anchor="end" textLength="13.04" lengthAdjust="spacingAndGlyphs">0.9</text>
<line x1="218.60" y1="382.50" x2="223.60" y2="382.50" stroke="#000" stroke-width="0.62"/>
<text x="213.70" y="385.50" font-size="8.4" text-anchor="end" textLength="13.04" lengthAdjust="spacingAndGlyphs">0.8</text>
<line x1="223.70" y1="391.40" x2="223.70" y2="386.40" stroke="#000" stroke-width="0.62"/>
<text x="223.70" y="403.20" font-size="8.4" text-anchor="middle" textLength="5.22" lengthAdjust="spacingAndGlyphs">0</text>
<line x1="252.73" y1="391.40" x2="252.73" y2="386.40" stroke="#000" stroke-width="0.62"/>
<text x="252.73" y="403.20" font-size="8.4" text-anchor="middle" textLength="10.43" lengthAdjust="spacingAndGlyphs">20</text>
<line x1="281.76" y1="391.40" x2="281.76" y2="386.40" stroke="#000" stroke-width="0.62"/>
<text x="281.76" y="403.20" font-size="8.4" text-anchor="middle" textLength="10.43" lengthAdjust="spacingAndGlyphs">40</text>
<line x1="310.79" y1="391.40" x2="310.79" y2="386.40" stroke="#000" stroke-width="0.62"/>
<text x="310.79" y="403.20" font-size="8.4" text-anchor="middle" textLength="10.43" lengthAdjust="spacingAndGlyphs">60</text>
<line x1="339.82" y1="391.40" x2="339.82" y2="386.40" stroke="#000" stroke-width="0.62"/>
<text x="339.82" y="403.20" font-size="8.4" text-anchor="middle" textLength="10.43" lengthAdjust="spacingAndGlyphs">80</text>
<clipPath id="cBii"><rect x="218.6" y="245.6" width="130.6" height="145.79999999999998"/></clipPath>
<g clip-path="url(#cBii)">
<line x1="254.30" y1="245.60" x2="254.30" y2="391.40" stroke="#909090" stroke-width="0.7" stroke-dasharray="2.8 0.9"/>
<line x1="319.30" y1="245.60" x2="319.30" y2="391.40" stroke="#909090" stroke-width="0.7" stroke-dasharray="2.8 0.9"/>
<line x1="218.60" y1="334.20" x2="349.20" y2="334.20" stroke="#c4c4c4" stroke-width="0.9"/>
<circle cx="291.80" cy="278.61" r="2.60" fill="#808080" fill-opacity="0.48"/>
<circle cx="326.90" cy="290.87" r="3.50" fill="#808080" fill-opacity="0.48"/>
<circle cx="307.20" cy="302.95" r="2.10" fill="#808080" fill-opacity="0.48"/>
<circle cx="319.40" cy="302.95" r="4.40" fill="#808080" fill-opacity="0.48"/>
<circle cx="312.40" cy="319.15" r="5.30" fill="#808080" fill-opacity="0.48"/>
<circle cx="299.60" cy="324.40" r="2.90" fill="#808080" fill-opacity="0.48"/>
<circle cx="297.80" cy="326.20" r="7.00" fill="#808080" fill-opacity="0.48"/>
<circle cx="305.40" cy="329.06" r="11.50" fill="#808080" fill-opacity="0.48"/>
<circle cx="290.20" cy="341.30" r="6.40" fill="#808080" fill-opacity="0.48"/>
<circle cx="304.80" cy="341.30" r="6.40" fill="#808080" fill-opacity="0.48"/>
<circle cx="337.50" cy="338.86" r="3.30" fill="#808080" fill-opacity="0.48"/>
<circle cx="311.20" cy="335.25" r="4.70" fill="#808080" fill-opacity="0.48"/>
<circle cx="306.90" cy="370.44" r="1.80" fill="#808080" fill-opacity="0.48"/>
<polygon points="282.70,334.12 283.97,333.97 285.25,333.82 286.52,333.67 287.79,333.52 289.07,333.37 290.34,333.15 291.61,332.31 292.89,331.48 294.16,330.64 295.43,329.80 296.71,328.91 297.98,327.96 299.26,327.01 300.53,326.06 301.80,325.10 303.08,324.15 304.35,323.10 305.62,322.04 306.90,320.98 308.17,319.92 309.44,318.85 310.72,317.81 311.99,316.83 313.26,315.85 314.54,314.86 315.81,313.87 317.08,312.92 318.36,311.96 319.63,310.98 320.90,309.88 322.18,308.78 323.45,307.67 324.72,306.56 326.00,305.48 327.27,304.42 328.54,303.36 329.82,302.29 331.09,301.22 332.37,300.60 333.64,299.98 334.91,299.36 336.19,298.74 337.46,298.12 338.73,297.57 340.01,297.09 341.28,296.60 342.55,296.12 343.83,295.63 345.10,295.14 345.10,338.86 343.83,338.79 342.55,338.72 341.28,338.65 340.01,338.59 338.73,338.52 337.46,338.51 336.19,338.56 334.91,338.61 333.64,338.66 332.37,338.71 331.09,338.76 329.82,338.67 328.54,338.57 327.27,338.47 326.00,338.37 324.72,338.29 323.45,338.25 322.18,338.20 320.90,338.16 319.63,338.11 318.36,338.02 317.08,337.91 315.81,337.81 314.54,337.74 313.26,337.67 311.99,337.60 310.72,337.53 309.44,337.45 308.17,337.38 306.90,337.32 305.62,337.26 304.35,337.20 303.08,337.13 301.80,336.95 300.53,336.76 299.26,336.57 297.98,336.38 296.71,336.19 295.43,335.95 294.16,335.67 292.89,335.38 291.61,335.09 290.34,334.81 289.07,334.68 287.79,334.57 286.52,334.46 285.25,334.34 283.97,334.23 282.70,334.12" fill="rgb(95,182,172)" fill-opacity="0.3"/>
<polygon points="282.70,334.12 283.97,334.05 285.25,333.99 286.52,333.92 287.79,333.85 289.07,333.78 290.34,333.67 291.61,333.21 292.89,332.75 294.16,332.30 295.43,331.84 296.71,331.33 297.98,330.77 299.26,330.21 300.53,329.65 301.80,329.08 303.08,328.51 304.35,327.80 305.62,327.09 306.90,326.38 308.17,325.66 309.44,324.95 310.72,324.25 311.99,323.58 313.26,322.91 314.54,322.24 315.81,321.57 317.08,320.93 318.36,320.29 319.63,319.61 320.90,318.75 322.18,317.88 323.45,317.02 324.72,316.15 326.00,315.31 327.27,314.49 328.54,313.67 329.82,312.85 331.09,312.02 332.37,311.50 333.64,310.97 334.91,310.44 336.19,309.92 337.46,309.39 338.73,308.92 340.01,308.53 341.28,308.13 342.55,307.73 343.83,307.34 345.10,306.94 345.10,328.47 343.83,328.46 342.55,328.45 341.28,328.44 340.01,328.43 338.73,328.42 337.46,328.48 336.19,328.59 334.91,328.71 333.64,328.83 332.37,328.94 331.09,329.06 329.82,329.15 328.54,329.24 327.27,329.32 326.00,329.41 324.72,329.53 323.45,329.67 322.18,329.82 320.90,329.96 319.63,330.11 318.36,330.27 317.08,330.44 315.81,330.61 314.54,330.81 313.26,331.02 311.99,331.22 310.72,331.43 309.44,331.66 308.17,331.91 306.90,332.17 305.62,332.42 304.35,332.67 303.08,332.92 301.80,333.10 300.53,333.28 299.26,333.46 297.98,333.64 296.71,333.82 295.43,333.95 294.16,334.04 292.89,334.12 291.61,334.20 290.34,334.29 289.07,334.27 287.79,334.24 286.52,334.21 285.25,334.18 283.97,334.15 282.70,334.12" fill="rgb(60,170,153)" fill-opacity="0.3"/>
<polyline points="223.70,334.20 225.76,334.20 227.82,334.20 229.87,334.20 231.93,334.20 233.99,334.20 236.05,334.20 238.10,334.20 240.16,334.20 242.22,334.20 244.28,334.20 246.33,334.20 248.39,334.20 250.45,334.20 252.51,334.20 254.56,334.20 256.62,334.20 258.68,334.20 260.74,334.20 262.79,334.20 264.85,334.20 266.91,334.20 268.97,334.20 271.03,334.20 273.08,334.20 275.14,334.20 277.20,334.20 279.26,334.18 281.31,334.14 283.37,334.11 285.43,334.08 287.49,334.05 289.54,334.02 291.60,333.71 293.66,333.27 295.72,332.84 297.77,332.27 299.83,331.67 301.89,331.07 303.95,330.40 306.01,329.62 308.06,328.85 310.12,328.07 312.18,327.37 314.24,326.67 316.29,325.97 318.35,325.33 320.41,324.61 322.47,323.81 324.52,323.00 326.58,322.25 328.64,321.54 330.70,320.82 332.75,320.27 334.81,319.76 336.87,319.26 338.93,318.83 340.98,318.53 343.04,318.23 345.10,317.93" fill="none" stroke="#2f8f83" stroke-width="1.3" stroke-opacity="1" stroke-linejoin="round"/>
<polyline points="223.70,334.10 225.76,334.11 227.82,334.11 229.87,334.11 231.93,334.12 233.99,334.12 236.05,334.12 238.10,334.13 240.16,334.13 242.22,334.13 244.28,334.13 246.33,334.14 248.39,334.14 250.45,334.14 252.51,334.15 254.56,334.15 256.62,334.15 258.68,334.16 260.74,334.16 262.79,334.16 264.85,334.17 266.91,334.17 268.97,334.17 271.03,334.17 273.08,334.18 275.14,334.18 277.20,334.18 279.26,334.19 281.31,334.19 283.37,334.19 285.43,334.20 287.49,334.20 289.54,334.25 291.60,334.30 293.66,334.35 295.72,334.41 297.77,334.46 299.83,334.51 301.89,334.56 303.95,334.63 306.01,334.72 308.06,334.80 310.12,334.88 312.18,334.96 314.24,335.05 316.29,335.13 318.35,335.21 320.41,335.30 322.47,335.39 324.52,335.48 326.58,335.57 328.64,335.67 330.70,335.76 332.75,335.85 334.81,335.94 336.87,336.03 338.93,336.12 340.98,336.22 343.04,336.31 345.10,336.40" fill="none" stroke="#d03a46" stroke-width="1.4" stroke-opacity="0.78" stroke-linejoin="round"/>
<path d="M296.67,249.97L300.92,254.22M300.92,249.97L296.67,254.22" stroke="#e0474f" stroke-width="2.12" stroke-opacity="0.85" fill="none"/>
<path d="M289.52,382.47L294.28,387.23M294.28,382.47L289.52,387.23" stroke="#e0474f" stroke-width="2.38" stroke-opacity="0.85" fill="none"/>
</g>
<rect x="218.60" y="245.60" width="130.60" height="145.80" fill="none" stroke="#000" stroke-width="0.62"/>
<clipPath id="cBiii"><rect x="396.2" y="245.6" width="130.59999999999997" height="145.79999999999998"/></clipPath>
<g clip-path="url(#cBiii)">
<polygon points="461.40,246.00 525.10,401.40 397.70,401.40" fill="#d8f2f2"/>
<line x1="461.40" y1="245.60" x2="461.40" y2="391.40" stroke="#909090" stroke-width="0.7" stroke-dasharray="2.8 0.9"/>
<circle cx="461.40" cy="248.80" r="2.30" fill="#808080" fill-opacity="0.3"/>
<circle cx="463.20" cy="249.00" r="2.30" fill="#808080" fill-opacity="0.3"/>
<circle cx="456.90" cy="256.40" r="2.30" fill="#808080" fill-opacity="0.3"/>
<circle cx="464.10" cy="255.80" r="2.30" fill="#808080" fill-opacity="0.3"/>
<circle cx="465.40" cy="261.90" r="2.30" fill="#808080" fill-opacity="0.3"/>
<circle cx="471.20" cy="271.80" r="2.30" fill="#808080" fill-opacity="0.3"/>
<circle cx="475.10" cy="286.50" r="2.30" fill="#808080" fill-opacity="0.3"/>
<circle cx="452.70" cy="303.50" r="2.30" fill="#808080" fill-opacity="0.3"/>
<circle cx="484.50" cy="321.80" r="2.30" fill="#808080" fill-opacity="0.3"/>
<circle cx="473.20" cy="356.80" r="2.30" fill="#808080" fill-opacity="0.3"/>
<circle cx="465.10" cy="361.00" r="2.30" fill="#808080" fill-opacity="0.3"/>
<circle cx="441.70" cy="378.00" r="2.30" fill="#808080" fill-opacity="0.3"/>
<path d="M432.69,341.19L437.11,345.61M437.11,341.19L432.69,345.61" stroke="#cf4a5a" stroke-width="2.21" stroke-opacity="0.42" fill="none"/>
<path d="M490.99,337.49L495.41,341.91M495.41,337.49L490.99,341.91" stroke="#cf4a5a" stroke-width="2.21" stroke-opacity="0.42" fill="none"/>
</g>
<rect x="396.20" y="245.60" width="130.60" height="145.80" fill="none" stroke="#000" stroke-width="0.62"/>
<line x1="396.20" y1="246.00" x2="401.20" y2="246.00" stroke="#000" stroke-width="0.62"/>
<text x="391.30" y="249.00" font-size="8.4" text-anchor="end" textLength="18.26" lengthAdjust="spacingAndGlyphs">0.00</text>
<line x1="396.20" y1="272.46" x2="401.20" y2="272.46" stroke="#000" stroke-width="0.62"/>
<text x="391.30" y="275.46" font-size="8.4" text-anchor="end" textLength="18.26" lengthAdjust="spacingAndGlyphs">0.05</text>
<line x1="396.20" y1="298.92" x2="401.20" y2="298.92" stroke="#000" stroke-width="0.62"/>
<text x="391.30" y="301.92" font-size="8.4" text-anchor="end" textLength="18.26" lengthAdjust="spacingAndGlyphs">0.10</text>
<line x1="396.20" y1="325.38" x2="401.20" y2="325.38" stroke="#000" stroke-width="0.62"/>
<text x="391.30" y="328.38" font-size="8.4" text-anchor="end" textLength="18.26" lengthAdjust="spacingAndGlyphs">0.15</text>
<line x1="396.20" y1="351.84" x2="401.20" y2="351.84" stroke="#000" stroke-width="0.62"/>
<text x="391.30" y="354.84" font-size="8.4" text-anchor="end" textLength="18.26" lengthAdjust="spacingAndGlyphs">0.20</text>
<line x1="396.20" y1="378.30" x2="401.20" y2="378.30" stroke="#000" stroke-width="0.62"/>
<text x="391.30" y="381.30" font-size="8.4" text-anchor="end" textLength="18.26" lengthAdjust="spacingAndGlyphs">0.25</text>
<line x1="405.80" y1="391.40" x2="405.80" y2="386.40" stroke="#000" stroke-width="0.62"/>
<text x="405.80" y="403.20" font-size="8.4" text-anchor="middle" textLength="25.13" lengthAdjust="spacingAndGlyphs">−0.50</text>
<line x1="433.60" y1="391.40" x2="433.60" y2="386.40" stroke="#000" stroke-width="0.62"/>
<text x="433.60" y="403.20" font-size="8.4" text-anchor="middle" textLength="25.13" lengthAdjust="spacingAndGlyphs">−0.25</text>
<line x1="461.40" y1="391.40" x2="461.40" y2="386.40" stroke="#000" stroke-width="0.62"/>
<text x="461.40" y="403.20" font-size="8.4" text-anchor="middle" textLength="18.26" lengthAdjust="spacingAndGlyphs">0.00</text>
<line x1="489.20" y1="391.40" x2="489.20" y2="386.40" stroke="#000" stroke-width="0.62"/>
<text x="489.20" y="403.20" font-size="8.4" text-anchor="middle" textLength="18.26" lengthAdjust="spacingAndGlyphs">0.25</text>
<line x1="517.00" y1="391.40" x2="517.00" y2="386.40" stroke="#000" stroke-width="0.62"/>
<text x="517.00" y="403.20" font-size="8.4" text-anchor="middle" textLength="18.26" lengthAdjust="spacingAndGlyphs">0.50</text>
<rect x="533.70" y="254.15" width="21.50" height="4.7" fill="#cfe9e6"/>
<text x="559.60" y="259.90" font-size="8.4" textLength="109.41" lengthAdjust="spacingAndGlyphs">95% UI with heterogeneity</text>
<rect x="533.70" y="266.28" width="21.50" height="4.7" fill="#a2d5ce"/>
<text x="559.60" y="272.03" font-size="8.4" textLength="122.84" lengthAdjust="spacingAndGlyphs">95% UI without heterogeneity</text>
<line x1="536.25" y1="280.76" x2="552.65" y2="280.76" stroke="#2f8f83" stroke-opacity="0.7" stroke-width="1.0"/>
<text x="559.60" y="284.16" font-size="8.4" textLength="36.34" lengthAdjust="spacingAndGlyphs">Mean RR</text>
<line x1="536.25" y1="292.89" x2="552.65" y2="292.89" stroke="#ef9aa0" stroke-width="1.3"/>
<text x="559.60" y="296.29" font-size="8.4" textLength="117.31" lengthAdjust="spacingAndGlyphs">Burden of proof risk function</text>
<circle cx="544.45" cy="305.02" r="2.8" fill="#808080" fill-opacity="0.5"/>
<text x="559.60" y="308.42" font-size="8.4" textLength="47.37" lengthAdjust="spacingAndGlyphs">Data points</text>
<path d="M541.45,314.15L547.45,320.15M547.45,314.15L541.45,320.15" stroke="#e0474f" stroke-width="1.2" stroke-opacity="0.85"/>
<text x="559.60" y="320.55" font-size="8.4" textLength="84.55" lengthAdjust="spacingAndGlyphs">Trimmed data points</text>
<line x1="536.25" y1="329.28" x2="552.65" y2="329.28" stroke="#a0a0a0" stroke-width="0.6" stroke-dasharray="2.2 0.9"/>
<text x="559.60" y="332.68" font-size="8.4" textLength="64.64" lengthAdjust="spacingAndGlyphs">Score boundary</text>
<text x="11.70" y="234.90" font-size="10.4" font-weight="bold" textLength="7.93" lengthAdjust="spacingAndGlyphs">B</text>
<text x="106.00" y="416.30" font-size="8.4" text-anchor="middle" textLength="76.87" lengthAdjust="spacingAndGlyphs">Railway Noise (dB)</text>
<text x="283.90" y="416.30" font-size="8.4" text-anchor="middle" textLength="76.87" lengthAdjust="spacingAndGlyphs">Railway Noise (dB)</text>
<text x="461.50" y="416.30" font-size="8.4" text-anchor="middle" textLength="34.63" lengthAdjust="spacingAndGlyphs">Residual</text>
<text x="8.50" y="318.50" font-size="8.4" text-anchor="middle" textLength="32.44" lengthAdjust="spacingAndGlyphs" transform="rotate(-90 8.50 318.50)">Log(RR)</text>
<text x="193.30" y="318.50" font-size="8.4" text-anchor="middle" textLength="11.40" lengthAdjust="spacingAndGlyphs" transform="rotate(-90 193.30 318.50)">RR</text>
<text x="366.00" y="318.50" font-size="8.4" text-anchor="middle" textLength="121.44" lengthAdjust="spacingAndGlyphs" transform="rotate(-90 366.00 318.50)">Standard error of the residual</text>
<line x1="56.00" y1="486.50" x2="61.00" y2="486.50" stroke="#000" stroke-width="0.62"/>
<text x="51.10" y="489.50" font-size="8.4" text-anchor="end" textLength="13.04" lengthAdjust="spacingAndGlyphs">0.6</text>
<line x1="56.00" y1="508.80" x2="61.00" y2="508.80" stroke="#000" stroke-width="0.62"/>
<text x="51.10" y="511.80" font-size="8.4" text-anchor="end" textLength="13.04" lengthAdjust="spacingAndGlyphs">0.4</text>
<line x1="56.00" y1="531.10" x2="61.00" y2="531.10" stroke="#000" stroke-width="0.62"/>
<text x="51.10" y="534.10" font-size="8.4" text-anchor="end" textLength="13.04" lengthAdjust="spacingAndGlyphs">0.2</text>
<text x="51.10" y="556.40" font-size="8.4" text-anchor="end" textLength="13.04" lengthAdjust="spacingAndGlyphs">0.0</text>
<line x1="56.00" y1="575.70" x2="61.00" y2="575.70" stroke="#000" stroke-width="0.62"/>
<text x="51.10" y="578.70" font-size="8.4" text-anchor="end" textLength="19.91" lengthAdjust="spacingAndGlyphs">−0.2</text>
<line x1="56.00" y1="598.00" x2="61.00" y2="598.00" stroke="#000" stroke-width="0.62"/>
<text x="51.10" y="601.00" font-size="8.4" text-anchor="end" textLength="19.91" lengthAdjust="spacingAndGlyphs">−0.4</text>
<line x1="61.20" y1="611.00" x2="61.20" y2="606.00" stroke="#000" stroke-width="0.62"/>
<text x="61.20" y="622.20" font-size="8.4" text-anchor="middle" textLength="5.22" lengthAdjust="spacingAndGlyphs">0</text>
<line x1="91.55" y1="611.00" x2="91.55" y2="606.00" stroke="#000" stroke-width="0.62"/>
<text x="91.55" y="622.20" font-size="8.4" text-anchor="middle" textLength="10.43" lengthAdjust="spacingAndGlyphs">20</text>
<line x1="121.90" y1="611.00" x2="121.90" y2="606.00" stroke="#000" stroke-width="0.62"/>
<text x="121.90" y="622.20" font-size="8.4" text-anchor="middle" textLength="10.43" lengthAdjust="spacingAndGlyphs">40</text>
<line x1="152.25" y1="611.00" x2="152.25" y2="606.00" stroke="#000" stroke-width="0.62"/>
<text x="152.25" y="622.20" font-size="8.4" text-anchor="middle" textLength="10.43" lengthAdjust="spacingAndGlyphs">60</text>
<line x1="182.60" y1="611.00" x2="182.60" y2="606.00" stroke="#000" stroke-width="0.62"/>
<text x="182.60" y="622.20" font-size="8.4" text-anchor="middle" textLength="10.43" lengthAdjust="spacingAndGlyphs">80</text>
<clipPath id="cCi"><rect x="56.0" y="470.0" width="129.9" height="141.0"/></clipPath>
<g clip-path="url(#cCi)">
<line x1="93.40" y1="470.00" x2="93.40" y2="611.00" stroke="#909090" stroke-width="0.7" stroke-dasharray="2.8 0.9"/>
<line x1="160.50" y1="470.00" x2="160.50" y2="611.00" stroke="#909090" stroke-width="0.7" stroke-dasharray="2.8 0.9"/>
<line x1="56.00" y1="553.40" x2="185.90" y2="553.40" stroke="#c4c4c4" stroke-width="0.9"/>
<circle cx="131.90" cy="552.90" r="8.20" fill="#808080" fill-opacity="0.48"/>
<circle cx="132.60" cy="552.60" r="7.40" fill="#808080" fill-opacity="0.48"/>
<circle cx="130.80" cy="554.50" r="6.00" fill="#808080" fill-opacity="0.48"/>
<circle cx="138.80" cy="550.70" r="5.60" fill="#808080" fill-opacity="0.48"/>
<circle cx="146.40" cy="557.00" r="5.30" fill="#808080" fill-opacity="0.48"/>
<circle cx="131.30" cy="557.60" r="6.30" fill="#808080" fill-opacity="0.48"/>
<circle cx="140.10" cy="578.10" r="2.00" fill="#808080" fill-opacity="0.48"/>
<circle cx="148.40" cy="517.60" r="1.35" fill="#808080" fill-opacity="0.48"/>
<circle cx="148.40" cy="520.30" r="1.35" fill="#808080" fill-opacity="0.48"/>
<circle cx="161.40" cy="499.40" r="1.50" fill="#808080" fill-opacity="0.48"/>
<circle cx="174.50" cy="476.30" r="0.80" fill="#808080" fill-opacity="0.48"/>
<circle cx="153.60" cy="570.20" r="4.00" fill="#808080" fill-opacity="0.48"/>
<polygon points="61.20,553.00 63.13,552.94 65.05,552.88 66.98,552.82 68.90,552.76 70.83,552.69 72.75,552.63 74.68,552.57 76.60,552.51 78.53,552.45 80.45,552.39 82.38,552.33 84.31,552.27 86.23,552.20 88.16,552.14 90.08,552.08 92.01,552.02 93.93,551.96 95.86,551.90 97.78,551.84 99.71,551.78 101.63,551.70 103.56,551.62 105.48,551.54 107.41,551.46 109.34,551.38 111.26,551.26 113.19,551.12 115.11,550.97 117.04,550.83 118.96,550.69 120.89,550.55 122.81,550.41 124.74,550.27 126.66,550.12 128.59,549.98 130.52,549.84 132.44,549.70 134.37,549.56 136.29,549.42 138.22,549.28 140.14,549.13 142.07,548.95 143.99,548.77 145.92,548.59 147.84,548.38 149.77,547.94 151.69,547.51 153.62,547.08 155.55,546.41 157.47,545.70 159.40,544.99 161.32,543.85 163.25,542.20 165.17,540.55 167.10,538.89 169.02,537.24 170.95,535.60 172.87,533.95 174.80,532.30 174.80,568.90 172.87,567.56 170.95,566.23 169.02,564.89 167.10,563.56 165.17,562.22 163.25,560.87 161.32,559.53 159.40,558.65 157.47,558.08 155.55,557.50 153.62,556.97 151.69,556.67 149.77,556.37 147.84,556.07 145.92,555.99 143.99,555.95 142.07,555.90 140.14,555.86 138.22,555.78 136.29,555.69 134.37,555.61 132.44,555.53 130.52,555.44 128.59,555.36 126.66,555.28 124.74,555.19 122.81,555.11 120.89,555.02 118.96,554.94 117.04,554.86 115.11,554.77 113.19,554.69 111.26,554.60 109.34,554.54 107.41,554.52 105.48,554.50 103.56,554.48 101.63,554.45 99.71,554.43 97.78,554.39 95.86,554.34 93.93,554.30 92.01,554.26 90.08,554.22 88.16,554.18 86.23,554.14 84.31,554.10 82.38,554.06 80.45,554.01 78.53,553.97 76.60,553.93 74.68,553.89 72.75,553.85 70.83,553.81 68.90,553.77 66.98,553.72 65.05,553.68 63.13,553.64 61.20,553.60" fill="rgb(95,182,172)" fill-opacity="0.3"/>
<polygon points="61.20,553.15 63.13,553.11 65.05,553.08 66.98,553.04 68.90,553.01 70.83,552.97 72.75,552.94 74.68,552.90 76.60,552.87 78.53,552.83 80.45,552.79 82.38,552.76 84.31,552.72 86.23,552.69 88.16,552.65 90.08,552.62 92.01,552.58 93.93,552.55 95.86,552.51 97.78,552.47 99.71,552.44 101.63,552.39 103.56,552.33 105.48,552.28 107.41,552.22 109.34,552.17 111.26,552.09 113.19,552.01 115.11,551.92 117.04,551.84 118.96,551.75 120.89,551.67 122.81,551.58 124.74,551.50 126.66,551.41 128.59,551.33 130.52,551.24 132.44,551.16 134.37,551.07 136.29,550.99 138.22,550.90 140.14,550.81 142.07,550.69 143.99,550.57 145.92,550.44 147.84,550.30 149.77,550.05 151.69,549.80 153.62,549.55 155.55,549.18 157.47,548.79 159.40,548.41 161.32,547.82 163.25,547.02 165.17,546.22 167.10,545.43 169.02,544.55 170.95,543.63 172.87,542.72 174.80,541.80 174.80,559.40 172.87,558.80 170.95,558.19 169.02,557.59 167.10,557.02 165.17,556.54 163.25,556.05 161.32,555.57 159.40,555.24 157.47,554.98 155.55,554.73 153.62,554.50 151.69,554.38 149.77,554.26 147.84,554.15 145.92,554.14 143.99,554.15 142.07,554.17 140.14,554.18 138.22,554.15 136.29,554.12 134.37,554.10 132.44,554.07 130.52,554.04 128.59,554.02 126.66,553.99 124.74,553.96 122.81,553.93 120.89,553.91 118.96,553.88 117.04,553.85 115.11,553.82 113.19,553.80 111.26,553.77 109.34,553.75 107.41,553.75 105.48,553.76 103.56,553.76 101.63,553.76 99.71,553.76 97.78,553.75 95.86,553.73 93.93,553.72 92.01,553.70 90.08,553.69 88.16,553.67 86.23,553.65 84.31,553.64 82.38,553.62 80.45,553.61 78.53,553.59 76.60,553.58 74.68,553.56 72.75,553.54 70.83,553.53 68.90,553.51 66.98,553.50 65.05,553.48 63.13,553.47 61.20,553.45" fill="rgb(60,170,153)" fill-opacity="0.3"/>
<polyline points="61.20,553.30 63.13,553.29 65.05,553.28 66.98,553.27 68.90,553.26 70.83,553.25 72.75,553.24 74.68,553.23 76.60,553.22 78.53,553.21 80.45,553.20 82.38,553.19 84.31,553.18 86.23,553.17 88.16,553.16 90.08,553.15 92.01,553.14 93.93,553.13 95.86,553.12 97.78,553.11 99.71,553.10 101.63,553.08 103.56,553.05 105.48,553.02 107.41,552.99 109.34,552.96 111.26,552.93 113.19,552.90 115.11,552.87 117.04,552.84 118.96,552.82 120.89,552.79 122.81,552.76 124.74,552.73 126.66,552.70 128.59,552.67 130.52,552.64 132.44,552.61 134.37,552.58 136.29,552.56 138.22,552.53 140.14,552.50 142.07,552.43 143.99,552.36 145.92,552.29 147.84,552.23 149.77,552.16 151.69,552.09 153.62,552.02 155.55,551.96 157.47,551.89 159.40,551.82 161.32,551.69 163.25,551.54 165.17,551.38 167.10,551.22 169.02,551.07 170.95,550.91 172.87,550.76 174.80,550.60" fill="none" stroke="#2f8f83" stroke-width="1.3" stroke-opacity="1" stroke-linejoin="round"/>
<path d="M149.86,566.46L157.34,573.94M157.34,566.46L149.86,573.94" stroke="#e0474f" stroke-width="2.20" stroke-opacity="0.85" fill="none"/>
<path d="M138.40,603.30L141.80,606.70M141.80,603.30L138.40,606.70" stroke="#e0474f" stroke-width="1.70" stroke-opacity="0.85" fill="none"/>
</g>
<rect x="56.00" y="470.00" width="129.90" height="141.00" fill="none" stroke="#000" stroke-width="0.62"/>
<line x1="227.00" y1="475.70" x2="232.00" y2="475.70" stroke="#000" stroke-width="0.62"/>
<text x="222.10" y="478.70" font-size="8.4" text-anchor="end" textLength="13.04" lengthAdjust="spacingAndGlyphs">2.0</text>
<line x1="227.00" y1="494.60" x2="232.00" y2="494.60" stroke="#000" stroke-width="0.62"/>
<text x="222.10" y="497.60" font-size="8.4" text-anchor="end" textLength="13.04" lengthAdjust="spacingAndGlyphs">1.8</text>
<line x1="227.00" y1="513.50" x2="232.00" y2="513.50" stroke="#000" stroke-width="0.62"/>
<text x="222.10" y="516.50" font-size="8.4" text-anchor="end" textLength="13.04" lengthAdjust="spacingAndGlyphs">1.6</text>
<line x1="227.00" y1="532.40" x2="232.00" y2="532.40" stroke="#000" stroke-width="0.62"/>
<text x="222.10" y="535.40" font-size="8.4" text-anchor="end" textLength="13.04" lengthAdjust="spacingAndGlyphs">1.4</text>
<line x1="227.00" y1="551.30" x2="232.00" y2="551.30" stroke="#000" stroke-width="0.62"/>
<text x="222.10" y="554.30" font-size="8.4" text-anchor="end" textLength="13.04" lengthAdjust="spacingAndGlyphs">1.2</text>
<text x="222.10" y="573.20" font-size="8.4" text-anchor="end" textLength="13.04" lengthAdjust="spacingAndGlyphs">1.0</text>
<line x1="227.00" y1="589.10" x2="232.00" y2="589.10" stroke="#000" stroke-width="0.62"/>
<text x="222.10" y="592.10" font-size="8.4" text-anchor="end" textLength="13.04" lengthAdjust="spacingAndGlyphs">0.8</text>
<line x1="227.00" y1="608.00" x2="232.00" y2="608.00" stroke="#000" stroke-width="0.62"/>
<text x="222.10" y="611.00" font-size="8.4" text-anchor="end" textLength="13.04" lengthAdjust="spacingAndGlyphs">0.6</text>
<line x1="232.20" y1="611.00" x2="232.20" y2="606.00" stroke="#000" stroke-width="0.62"/>
<text x="232.20" y="622.20" font-size="8.4" text-anchor="middle" textLength="5.22" lengthAdjust="spacingAndGlyphs">0</text>
<line x1="262.70" y1="611.00" x2="262.70" y2="606.00" stroke="#000" stroke-width="0.62"/>
<text x="262.70" y="622.20" font-size="8.4" text-anchor="middle" textLength="10.43" lengthAdjust="spacingAndGlyphs">20</text>
<line x1="293.20" y1="611.00" x2="293.20" y2="606.00" stroke="#000" stroke-width="0.62"/>
<text x="293.20" y="622.20" font-size="8.4" text-anchor="middle" textLength="10.43" lengthAdjust="spacingAndGlyphs">40</text>
<line x1="323.70" y1="611.00" x2="323.70" y2="606.00" stroke="#000" stroke-width="0.62"/>
<text x="323.70" y="622.20" font-size="8.4" text-anchor="middle" textLength="10.43" lengthAdjust="spacingAndGlyphs">60</text>
<line x1="354.20" y1="611.00" x2="354.20" y2="606.00" stroke="#000" stroke-width="0.62"/>
<text x="354.20" y="622.20" font-size="8.4" text-anchor="middle" textLength="10.43" lengthAdjust="spacingAndGlyphs">80</text>
<clipPath id="cCii"><rect x="227.0" y="470.0" width="129.60000000000002" height="141.0"/></clipPath>
<g clip-path="url(#cCii)">
<line x1="264.60" y1="470.00" x2="264.60" y2="611.00" stroke="#909090" stroke-width="0.7" stroke-dasharray="2.8 0.9"/>
<line x1="331.30" y1="470.00" x2="331.30" y2="611.00" stroke="#909090" stroke-width="0.7" stroke-dasharray="2.8 0.9"/>
<line x1="227.00" y1="570.20" x2="356.60" y2="570.20" stroke="#c4c4c4" stroke-width="0.9"/>
<circle cx="302.90" cy="569.78" r="8.20" fill="#808080" fill-opacity="0.48"/>
<circle cx="303.60" cy="569.52" r="7.40" fill="#808080" fill-opacity="0.48"/>
<circle cx="301.80" cy="571.13" r="6.00" fill="#808080" fill-opacity="0.48"/>
<circle cx="309.80" cy="567.88" r="5.60" fill="#808080" fill-opacity="0.48"/>
<circle cx="317.40" cy="573.20" r="5.30" fill="#808080" fill-opacity="0.48"/>
<circle cx="302.30" cy="573.69" r="6.30" fill="#808080" fill-opacity="0.48"/>
<circle cx="311.10" cy="588.98" r="2.00" fill="#808080" fill-opacity="0.48"/>
<circle cx="319.40" cy="534.42" r="1.35" fill="#808080" fill-opacity="0.48"/>
<circle cx="319.40" cy="537.54" r="1.35" fill="#808080" fill-opacity="0.48"/>
<circle cx="332.40" cy="511.32" r="1.50" fill="#808080" fill-opacity="0.48"/>
<circle cx="345.50" cy="476.01" r="0.80" fill="#808080" fill-opacity="0.48"/>
<circle cx="324.60" cy="583.42" r="4.00" fill="#808080" fill-opacity="0.48"/>
<polygon points="232.20,569.86 234.13,569.81 236.05,569.76 237.98,569.70 239.90,569.65 241.83,569.60 243.75,569.55 245.68,569.50 247.60,569.44 249.53,569.39 251.45,569.34 253.38,569.29 255.31,569.23 257.23,569.18 259.16,569.13 261.08,569.08 263.01,569.02 264.93,568.97 266.86,568.92 268.78,568.87 270.71,568.81 272.63,568.75 274.56,568.68 276.48,568.61 278.41,568.54 280.34,568.47 282.26,568.37 284.19,568.24 286.11,568.12 288.04,568.00 289.96,567.88 291.89,567.75 293.81,567.63 295.74,567.51 297.66,567.38 299.59,567.26 301.52,567.14 303.44,567.01 305.37,566.89 307.29,566.76 309.22,566.64 311.14,566.51 313.07,566.35 314.99,566.19 316.92,566.04 318.84,565.85 320.77,565.46 322.69,565.07 324.62,564.69 326.55,564.08 328.47,563.44 330.40,562.80 332.32,561.75 334.25,560.21 336.17,558.65 338.10,557.07 340.02,555.46 341.95,553.84 343.87,552.19 345.80,550.51 345.80,582.46 343.87,581.47 341.95,580.47 340.02,579.46 338.10,578.43 336.17,577.38 334.25,576.33 332.32,575.26 330.40,574.55 328.47,574.08 326.55,573.62 324.62,573.18 322.69,572.93 320.77,572.69 318.84,572.44 316.92,572.37 314.99,572.34 313.07,572.30 311.14,572.26 309.22,572.19 307.29,572.12 305.37,572.05 303.44,571.99 301.52,571.92 299.59,571.85 297.66,571.78 295.74,571.71 293.81,571.64 291.89,571.57 289.96,571.50 288.04,571.43 286.11,571.36 284.19,571.29 282.26,571.22 280.34,571.16 278.41,571.14 276.48,571.13 274.56,571.11 272.63,571.09 270.71,571.07 268.78,571.03 266.86,571.00 264.93,570.96 263.01,570.93 261.08,570.89 259.16,570.86 257.23,570.82 255.31,570.79 253.38,570.75 251.45,570.72 249.53,570.68 247.60,570.65 245.68,570.61 243.75,570.58 241.83,570.54 239.90,570.51 237.98,570.47 236.05,570.44 234.13,570.40 232.20,570.37" fill="rgb(95,182,172)" fill-opacity="0.3"/>
<polygon points="232.20,569.99 234.13,569.96 236.05,569.93 237.98,569.90 239.90,569.87 241.83,569.84 243.75,569.81 245.68,569.78 247.60,569.75 249.53,569.72 251.45,569.69 253.38,569.65 255.31,569.62 257.23,569.59 259.16,569.56 261.08,569.53 263.01,569.50 264.93,569.47 266.86,569.44 268.78,569.41 270.71,569.38 272.63,569.34 274.56,569.29 276.48,569.24 278.41,569.20 280.34,569.15 282.26,569.09 284.19,569.01 286.11,568.94 288.04,568.87 289.96,568.79 291.89,568.72 293.81,568.65 295.74,568.57 297.66,568.50 299.59,568.43 301.52,568.35 303.44,568.28 305.37,568.21 307.29,568.13 309.22,568.06 311.14,567.98 313.07,567.87 314.99,567.77 316.92,567.66 318.84,567.54 320.77,567.32 322.69,567.10 324.62,566.88 326.55,566.56 328.47,566.21 330.40,565.87 332.32,565.35 334.25,564.64 336.17,563.92 338.10,563.19 340.02,562.39 341.95,561.55 343.87,560.70 345.80,559.84 345.80,575.15 343.87,574.67 341.95,574.18 340.02,573.69 338.10,573.22 336.17,572.82 334.25,572.42 332.32,572.02 330.40,571.74 328.47,571.53 326.55,571.32 324.62,571.12 322.69,571.03 320.77,570.93 318.84,570.83 316.92,570.83 314.99,570.84 313.07,570.85 311.14,570.86 309.22,570.84 307.29,570.81 305.37,570.79 303.44,570.77 301.52,570.74 299.59,570.72 297.66,570.70 295.74,570.67 293.81,570.65 291.89,570.63 289.96,570.60 288.04,570.58 286.11,570.56 284.19,570.53 282.26,570.51 280.34,570.50 278.41,570.50 276.48,570.50 274.56,570.51 272.63,570.51 270.71,570.51 268.78,570.50 266.86,570.48 264.93,570.47 263.01,570.46 261.08,570.44 259.16,570.43 257.23,570.42 255.31,570.40 253.38,570.39 251.45,570.38 249.53,570.36 247.60,570.35 245.68,570.34 243.75,570.32 241.83,570.31 239.90,570.30 237.98,570.28 236.05,570.27 234.13,570.26 232.20,570.24" fill="rgb(60,170,153)" fill-opacity="0.3"/>
<polyline points="232.20,570.12 234.13,570.11 236.05,570.10 237.98,570.09 239.90,570.08 241.83,570.07 243.75,570.06 245.68,570.06 247.60,570.05 249.53,570.04 251.45,570.03 253.38,570.02 255.31,570.01 257.23,570.01 259.16,570.00 261.08,569.99 263.01,569.98 264.93,569.97 266.86,569.96 268.78,569.96 270.71,569.95 272.63,569.92 274.56,569.90 276.48,569.88 278.41,569.85 280.34,569.83 282.26,569.80 284.19,569.78 286.11,569.75 288.04,569.73 289.96,569.70 291.89,569.68 293.81,569.65 295.74,569.63 297.66,569.60 299.59,569.58 301.52,569.56 303.44,569.53 305.37,569.51 307.29,569.48 309.22,569.46 311.14,569.43 313.07,569.37 314.99,569.31 316.92,569.26 318.84,569.20 320.77,569.14 322.69,569.08 324.62,569.03 326.55,568.97 328.47,568.91 330.40,568.85 332.32,568.74 334.25,568.61 336.17,568.47 338.10,568.34 340.02,568.20 341.95,568.07 343.87,567.93 345.80,567.80" fill="none" stroke="#2f8f83" stroke-width="1.3" stroke-opacity="1" stroke-linejoin="round"/>
<path d="M320.86,579.68L328.34,587.16M328.34,579.68L320.86,587.16" stroke="#e0474f" stroke-width="2.20" stroke-opacity="0.85" fill="none"/>
<path d="M309.40,603.51L312.80,606.91M312.80,603.51L309.40,606.91" stroke="#e0474f" stroke-width="1.70" stroke-opacity="0.85" fill="none"/>
</g>
<rect x="227.00" y="470.00" width="129.60" height="141.00" fill="none" stroke="#000" stroke-width="0.62"/>
<clipPath id="cCiii"><rect x="398.1" y="469.7" width="129.29999999999995" height="141.3"/></clipPath>
<g clip-path="url(#cCiii)">
<polygon points="462.70,470.70 525.48,621.00 399.92,621.00" fill="#d8f2f2"/>
<line x1="462.70" y1="469.70" x2="462.70" y2="611.00" stroke="#909090" stroke-width="0.7" stroke-dasharray="2.8 0.9"/>
<circle cx="462.70" cy="472.00" r="2.30" fill="#808080" fill-opacity="0.3"/>
<circle cx="462.70" cy="472.30" r="2.30" fill="#808080" fill-opacity="0.3"/>
<circle cx="462.60" cy="471.60" r="2.30" fill="#808080" fill-opacity="0.3"/>
<circle cx="462.80" cy="471.80" r="2.30" fill="#808080" fill-opacity="0.3"/>
<circle cx="462.50" cy="487.30" r="2.30" fill="#808080" fill-opacity="0.3"/>
<circle cx="462.50" cy="487.50" r="2.30" fill="#808080" fill-opacity="0.3"/>
<circle cx="457.00" cy="492.00" r="2.30" fill="#808080" fill-opacity="0.3"/>
<circle cx="474.80" cy="512.80" r="2.30" fill="#808080" fill-opacity="0.3"/>
<circle cx="470.40" cy="518.30" r="2.30" fill="#808080" fill-opacity="0.3"/>
<circle cx="462.70" cy="543.70" r="2.30" fill="#808080" fill-opacity="0.3"/>
<circle cx="479.50" cy="598.60" r="2.30" fill="#808080" fill-opacity="0.3"/>
<path d="M456.29,474.09L460.71,478.51M460.71,474.09L456.29,478.51" stroke="#cf4a5a" stroke-width="2.21" stroke-opacity="0.7" fill="none"/>
<path d="M448.69,495.09L453.11,499.51M453.11,495.09L448.69,499.51" stroke="#cf4a5a" stroke-width="2.21" stroke-opacity="0.7" fill="none"/>
</g>
<rect x="398.10" y="469.70" width="129.30" height="141.30" fill="none" stroke="#000" stroke-width="0.62"/>
<line x1="398.10" y1="471.00" x2="403.10" y2="471.00" stroke="#000" stroke-width="0.62"/>
<text x="393.20" y="474.00" font-size="8.4" text-anchor="end" textLength="13.04" lengthAdjust="spacingAndGlyphs">0.0</text>
<line x1="398.10" y1="494.15" x2="403.10" y2="494.15" stroke="#000" stroke-width="0.62"/>
<text x="393.20" y="497.15" font-size="8.4" text-anchor="end" textLength="13.04" lengthAdjust="spacingAndGlyphs">0.2</text>
<line x1="398.10" y1="517.30" x2="403.10" y2="517.30" stroke="#000" stroke-width="0.62"/>
<text x="393.20" y="520.30" font-size="8.4" text-anchor="end" textLength="13.04" lengthAdjust="spacingAndGlyphs">0.4</text>
<line x1="398.10" y1="540.45" x2="403.10" y2="540.45" stroke="#000" stroke-width="0.62"/>
<text x="393.20" y="543.45" font-size="8.4" text-anchor="end" textLength="13.04" lengthAdjust="spacingAndGlyphs">0.6</text>
<line x1="398.10" y1="563.60" x2="403.10" y2="563.60" stroke="#000" stroke-width="0.62"/>
<text x="393.20" y="566.60" font-size="8.4" text-anchor="end" textLength="13.04" lengthAdjust="spacingAndGlyphs">0.8</text>
<line x1="398.10" y1="586.75" x2="403.10" y2="586.75" stroke="#000" stroke-width="0.62"/>
<text x="393.20" y="589.75" font-size="8.4" text-anchor="end" textLength="13.04" lengthAdjust="spacingAndGlyphs">1.0</text>
<line x1="398.10" y1="609.90" x2="403.10" y2="609.90" stroke="#000" stroke-width="0.62"/>
<text x="393.20" y="612.90" font-size="8.4" text-anchor="end" textLength="13.04" lengthAdjust="spacingAndGlyphs">1.2</text>
<line x1="413.10" y1="611.00" x2="413.10" y2="606.00" stroke="#000" stroke-width="0.62"/>
<text x="413.10" y="622.20" font-size="8.4" text-anchor="middle" textLength="12.09" lengthAdjust="spacingAndGlyphs">−2</text>
<line x1="462.70" y1="611.00" x2="462.70" y2="606.00" stroke="#000" stroke-width="0.62"/>
<text x="462.70" y="622.20" font-size="8.4" text-anchor="middle" textLength="5.22" lengthAdjust="spacingAndGlyphs">0</text>
<line x1="512.30" y1="611.00" x2="512.30" y2="606.00" stroke="#000" stroke-width="0.62"/>
<text x="512.30" y="622.20" font-size="8.4" text-anchor="middle" textLength="5.22" lengthAdjust="spacingAndGlyphs">2</text>
<rect x="533.70" y="478.05" width="20.80" height="4.7" fill="#cfe9e6"/>
<text x="558.80" y="483.80" font-size="8.4" textLength="109.41" lengthAdjust="spacingAndGlyphs">95% UI with heterogeneity</text>
<rect x="533.70" y="489.90" width="20.80" height="4.7" fill="#a2d5ce"/>
<text x="558.80" y="495.65" font-size="8.4" textLength="122.84" lengthAdjust="spacingAndGlyphs">95% UI without heterogeneity</text>
<line x1="535.90" y1="504.10" x2="552.30" y2="504.10" stroke="#2f8f83" stroke-opacity="0.7" stroke-width="1.0"/>
<text x="558.80" y="507.50" font-size="8.4" textLength="36.34" lengthAdjust="spacingAndGlyphs">Mean RR</text>
<circle cx="544.10" cy="515.95" r="2.8" fill="#808080" fill-opacity="0.5"/>
<text x="558.80" y="519.35" font-size="8.4" textLength="47.37" lengthAdjust="spacingAndGlyphs">Data points</text>
<path d="M541.10,524.80L547.10,530.80M547.10,524.80L541.10,530.80" stroke="#e0474f" stroke-width="1.2" stroke-opacity="0.85"/>
<text x="558.80" y="531.20" font-size="8.4" textLength="84.55" lengthAdjust="spacingAndGlyphs">Trimmed data points</text>
<line x1="535.90" y1="539.65" x2="552.30" y2="539.65" stroke="#a0a0a0" stroke-width="0.6" stroke-dasharray="2.2 0.9"/>
<text x="558.80" y="543.05" font-size="8.4" textLength="64.64" lengthAdjust="spacingAndGlyphs">Score boundary</text>
<text x="27.70" y="462.30" font-size="10.4" font-weight="bold" textLength="7.63" lengthAdjust="spacingAndGlyphs">C</text>
<text x="120.60" y="635.60" font-size="8.4" text-anchor="middle" textLength="75.13" lengthAdjust="spacingAndGlyphs">Aircraft Noise (dB)</text>
<text x="291.70" y="635.60" font-size="8.4" text-anchor="middle" textLength="75.13" lengthAdjust="spacingAndGlyphs">Aircraft Noise (dB)</text>
<text x="462.70" y="635.60" font-size="8.4" text-anchor="middle" textLength="34.63" lengthAdjust="spacingAndGlyphs">Residual</text>
<text x="24.20" y="540.90" font-size="8.4" text-anchor="middle" textLength="32.44" lengthAdjust="spacingAndGlyphs" transform="rotate(-90 24.20 540.90)">Log(RR)</text>
<text x="202.20" y="540.50" font-size="8.4" text-anchor="middle" textLength="11.40" lengthAdjust="spacingAndGlyphs" transform="rotate(-90 202.20 540.50)">RR</text>
<text x="373.40" y="541.80" font-size="8.4" text-anchor="middle" textLength="121.44" lengthAdjust="spacingAndGlyphs" transform="rotate(-90 373.40 541.80)">Standard error of the residual</text>
</svg>
</body></html>
